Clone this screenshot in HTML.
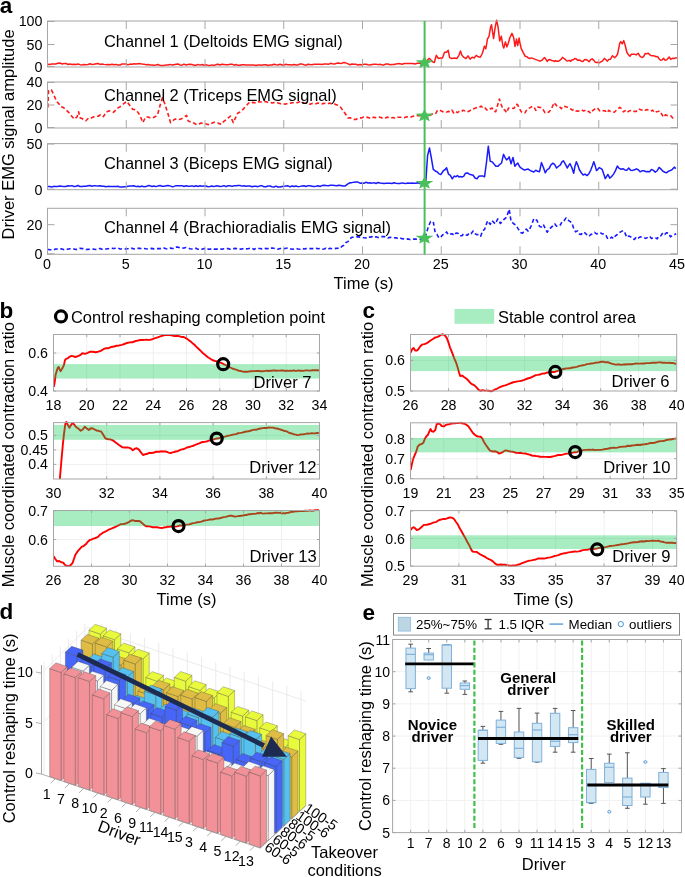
<!DOCTYPE html>
<html><head><meta charset="utf-8"><style>
html,body{margin:0;padding:0;background:#fff;}
svg{display:block;will-change:transform;}
text{font-family:"Liberation Sans", sans-serif;}
</style></head><body>
<svg width="685" height="877" viewBox="0 0 685 877">
<rect width="685" height="877" fill="#fff"/>
<polyline points="47.5,64.19 49.58,64.39 51.67,64.01 53.75,64.12 55.83,63.98 57.92,63.15 60,62.92 62,64 64,63.41 66,63.48 68,64.49 70,63.96 72,64.5 74,64.17 76,64.47 78,63.98 80,64.66 82,64.89 84,64.43 86,64.64 88,64.51 90,63.73 92,64.51 94,64.26 96,63.86 98,63.49 100,64.44 102,64.03 104,64.38 106,64.63 108,64.5 110,64.81 112,64.23 114,64.78 116,64.41 118,65.06 120,65.05 122,64.04 124,64 126,64.02 128,64.84 130,64.12 132,64.27 134,63.8 136,63.97 138,63.74 140,63.62 142,64.02 144,64.14 146,64.65 148,64.5 150,64.91 152,64.95 154,65.23 156,64.97 158,64.48 160,65.43 162,65.51 164,65.39 166,64.93 168,65.06 170,64.4 172,65.1 174,64.74 176,64.34 178,64.03 180,64.92 182,65.14 184,64.11 186,65.01 188,64.59 190,64.33 192,64.55 194,65.17 196,65.35 198,64.4 200,65.14 202,64.43 204,65.22 206,64.74 208,65.38 210,65.48 212,64.89 214,65.46 216,64.61 218,64.31 220,64.92 222,64.22 224,64.4 226,64.63 228,64.85 230,64.29 232,64.17 234,65.18 236,64.54 238,65.33 240,65.28 242,64.67 244,64.79 246,64.88 248,65.05 250,65.01 252,64.99 254,65.08 256,65.49 258,64.99 260,64.92 262,65.24 264,64.65 266,64.7 268,65.49 270,64.93 272,64.94 274,64.27 276,64.74 278,64.92 280,64.22 282,64.92 284,64.92 286,64.21 288,64.87 290,64.66 292,64.9 294,64.5 296,64.91 298,64.93 300,64.06 302,64.09 304,64.82 306,65.15 308,64.28 310,64.51 312,64.66 314,64.32 316,64.36 318,64.29 320,64.34 322.08,64.49 324.17,64.01 326.25,63.98 328.33,64.33 330.42,63.31 332.5,63.83 334.58,63.91 336.67,63.27 338.75,63.04 340.83,63.61 342.92,62.81 345,62.62 347.5,63.67 350,64.74 352,64.03 354,64.3 356,64.32 358,64.93 360,64.46 362,64.97 364,64.15 366,64.36 368,64.74 370,65.03 372,64.51 374,64.25 376,64.13 378,64.63 380,64.23 382,64.91 384,64.89 386,64.04 388,64.09 390,64.67 392,64.41 394,64.55 396,63.93 398,63.62 400,63.75 402.14,64.28 404.29,63.58 406.43,63.6 408.57,63.61 410.71,63.55 412.86,63.46 415,64 417.25,63.21 419.5,63.16 421.75,64.41 424,64 424.09,63.63 425.36,62.14 426.64,61.33 427.92,59.67 429.2,58.25 430.73,59.8 432.26,61.65 434.31,62.49 436.35,55.28 438.39,58.5 440.44,57.98 442.48,57.97 444.52,52.29 446.57,52.18 448.2,50.31 449.63,57.58 451.68,58.44 453.21,58.2 454.74,57.99 456.79,58.45 458.83,55.57 460.47,50.97 461.9,55.22 463.94,57.46 465.98,58.53 468.03,55.83 470.07,59.11 472.12,57.17 474.16,57.93 476.2,55.36 478.25,56.85 480.29,57.26 482.33,53.5 484.38,46.24 485.81,48.8 487.44,39.21 489.08,36.09 490.51,27.38 491.53,24.81 492.55,31.91 493.57,38.52 495.21,27.12 496.64,20.27 498.07,27.15 499.71,41.03 501.34,36.15 502.77,45.13 503.79,47.99 505.43,41.86 506.86,46.88 508.29,43.26 509.92,37.54 511.97,33.35 513.6,37.23 515.03,46.45 516.46,39.04 517.69,45.52 519.12,38.03 520.14,43.82 521.16,48.36 523.21,52.58 525.25,56.27 526.79,56.61 528.32,58.01 529.85,58.57 531.38,57.92 540,61.13 542.04,60.25 543.27,58.78 544.5,57.43 545.82,59.23 547.15,61.49 548.69,59.7 550.22,59.51 551.58,60.56 552.94,60.69 554.31,61.47 555.67,60.72 557.03,61.36 558.39,61.29 559.76,60.42 561.12,59.23 562.48,57.33 563.84,58.4 565.21,59.29 566.57,60.87 567.93,60.89 569.29,60.37 570.66,61.34 572.02,59.87 573.38,59.76 574.74,58.49 576.11,58.82 577.47,60.34 578.83,60.02 580.19,60.23 581.56,61.36 582.92,61.43 584.45,59.71 585.98,59.49 587.52,60.32 589.05,61.81 590.58,59.61 592.12,58.86 593.65,60.19 595.18,62.16 596.54,62.55 597.91,62.31 599.27,62.86 600.8,61.91 602.33,61.17 604.38,58.42 605.91,59.72 607.44,61.11 608.98,59.37 610.51,59.15 612.55,55.68 614.6,57.69 616.13,56.26 617.66,53.81 619.71,43.39 620.73,41.55 622.16,43.86 623.79,40.63 625.43,46.23 626.86,52.24 628.39,54.64 629.92,56.29 631.46,54.27 632.99,54.18 634.52,54.18 636.06,54.95 638.1,53.24 640.14,56.35 642.19,57.54 643.72,56.42 645.25,53.47 646.79,53.63 648.32,53.32 649.85,54.87 651.38,55.69 652.92,55.7 654.45,55.9 655.98,56.72 657.51,56.43 659.05,58.73 660.58,60.32 662.11,59.88 663.65,58.38 665.18,60.19 666.71,59.88 667.94,58.44 669.16,57.03 670.8,59.44 672.33,58.24 673.86,58.43 675.4,57.97 676.93,57.69" fill="none" stroke="#ff1a1a" stroke-width="1.5" stroke-linejoin="round"/>
<polyline points="47.92,107.46 48.5,90.68 51.42,89.85 53.76,94.8 56.68,101.48 58.87,103.84 61.06,106.78 63.25,107.45 65.44,109.34 67.63,111.35 69.82,113.53 72.01,116.49 74.2,119.11 77.12,116.83 78.58,111.71 80.04,117.69 81.98,118.45 83.93,119.67 85.88,120.78 88.8,117.77 91.72,117.84 93.91,116.84 96.09,116.25 98.28,116.26 100.47,114.6 103.39,116.62 106.31,111.99 109.23,110.82 111.42,111.23 113.61,112.31 115.8,109.92 117.99,107.89 120.18,106.68 122.37,104.9 124.56,103 126.75,101.46 129.67,105.26 132.59,109.19 134.78,109.62 136.97,111.1 139.89,115.12 142.81,122.56 145.73,116.88 147.92,117.01 150.11,117.81 152.3,118.04 154.49,117.01 157.41,115.3 160.33,104.42 162.37,97.71 164.71,103.56 167.63,112.57 170.55,122.68 172.74,120.88 174.93,119.11 177.12,119.07 179.31,119.44 181.5,118.7 183.69,117.53 186.61,115.44 188.07,120.88 190.26,121.81 192.45,122.06 194.64,123.54 196.82,124.77 199.01,124.08 201.2,122.98 203.39,123.43 205.58,123.67 207.77,124.42 209.96,124.77 212.15,123.03 214.34,122.23 216.53,122.44 218.72,123.37 221.64,124.27 223.83,121.31 226.02,119.68 228.21,117.76 230.4,116.01 233.32,122.6 235.51,117.8 237.7,113.25 239.89,112.05 242.08,110.66 244.38,107.69 246.57,105.4 248.76,102.92 250.71,103.6 252.65,102.38 254.6,102.78 256.55,102.96 258.49,101.69 260.44,101.96 262.38,102.04 264.33,101.35 266.28,101.75 268.22,102.43 270.17,102.42 272.12,103.04 274.06,102.56 276.01,102.85 277.96,102.89 279.9,103.56 281.85,104.26 283.8,104.05 285.74,104.08 287.69,103.41 289.64,103.65 291.58,102.69 293.53,102.72 295.47,102.98 297.66,102.61 299.85,101.8 302.04,102.13 304.23,103.08 306.18,103.2 308.13,103.48 310.07,104.31 312.02,103.39 313.97,104.02 315.91,103.81 317.86,103.02 319.81,103.6 321.75,103.93 323.7,103.18 325.64,103.46 327.59,103.85 329.54,103.09 331.48,103.86 333.43,103.49 335.62,104.47 337.81,105.29 340.73,107.38 343.65,111.53 345.84,114.54 348.03,118 349.98,117.86 351.92,118.43 353.87,119.41 355.82,119.43 357.76,118.35 359.71,117.83 361.65,117.93 363.6,117.08 365.55,117.47 367.49,117.17 369.44,117.89 371.39,118.51 373.33,117.23 375.28,117.63 377.23,117.5 379.17,117.15 381.12,117.48 383.07,118.55 385.01,118.36 386.96,117.11 388.91,117.62 390.85,118.11 392.8,117.45 394.74,118.09 396.69,117.12 398.64,117.21 400.58,117.29 402.53,117.29 404.48,117.6 406.42,116.88 408.37,116.9 410.32,117.23 412.26,116.6 414.21,115.95 416.16,115.41 418.1,115.62 420.05,115.61 422,115.43 423.94,116.5 424.5,116 430,115.45 431.82,114.22 433.65,114 435.47,113.93 437.3,110.51 439.12,109.87 440.95,110.81 442.77,111.68 444.6,111.2 446.42,112.09 448.25,111.39 450.07,111.93 451.9,110.16 453.72,112.94 455.55,111.27 457.37,112.57 459.2,111.41 461.02,111.89 462.85,110.32 464.67,110.8 466.5,110.31 468.32,111.62 470.15,110.5 471.97,109.16 473.8,108.76 475.62,108.11 477.45,107.44 479.27,107.41 481.09,106.12 482.92,107.9 484.74,107.37 486.57,109.71 488.39,110.45 490.22,108.91 492.04,108 493.87,111.02 495.69,111.79 497.52,105.45 499.34,98.98 501.17,104.45 502.99,109.3 504.82,110 506.64,112.7 508.47,108.09 510.29,108.42 512.12,108.21 513.94,108.51 515.77,104.39 517.59,104.61 519.42,108.6 521.24,111.67 523.07,113.09 524.89,112.93 526.72,109.93 528.54,108.4 530.36,107.63 532.19,106.25 534.01,107.07 535.84,110.36 537.66,107.08 539.49,107.36 541.31,107.45 543.14,109.56 544.96,112.66 546.79,111.85 548.61,112.28 550.44,110.25 552.26,106.95 554.09,102.57 555.91,104.93 557.74,106.78 559.56,106.68 561.39,108.67 563.21,106.31 565.04,106.44 566.86,106.99 568.69,107.38 570.51,108.75 572.34,110.12 574.16,109.34 575.99,110.97 577.81,111.15 579.64,110.59 581.46,109.79 583.28,110.84 585.11,110.5 586.93,112.13 588.76,111.29 590.58,113.29 592.41,110.96 594.23,109.46 596.06,107.88 597.88,108.58 599.71,110.82 601.53,109.95 603.36,110.7 605.18,110.88 607.01,112.76 608.83,110.33 610.66,111.57 612.48,111.8 614.31,112.27 616.13,110.48 617.96,108.91 619.78,107.35 621.61,108.59 623.43,111.9 625.26,110.54 627.08,112.43 628.91,111.04 630.73,110.44 632.55,111.45 634.38,111.31 636.2,111.44 638.03,109.18 639.85,109.41 641.68,110.09 643.5,109.04 645.33,110.18 647.15,109.59 648.98,110.39 650.8,111.2 652.63,110.15 654.45,112.74 656.28,111.82 658.1,111.47 659.93,110.99 661.75,114.27 663.58,117.19 665.4,114.79 667.23,115.53 669.05,115.4 670.88,115.85 672.7,117.99 674.53,117.59" fill="none" stroke="#ff1a1a" stroke-width="1.6" stroke-linejoin="round" stroke-dasharray="4 2.6"/>
<polyline points="47.5,186.44 49.53,186.54 51.56,186.95 53.59,186.37 55.62,186.38 57.66,186.45 59.69,185.93 61.72,186.3 63.75,186.41 65.78,186.57 67.81,185.7 69.84,185.92 71.88,185.63 73.91,186.47 75.94,186.29 77.97,185.48 80,186.58 82,186.58 84,186.23 86,186.21 88,185.69 90,185.54 92,186.18 94,185.65 96,185.83 98,185.92 100,185.69 102,186.23 104,186.23 106,186.74 108,186.37 110,186.54 112,186.4 114,186.62 116,186.4 118,186.21 120,187.1 122,187.07 124,186.86 126,186.67 128,186.18 130,186.05 132,186.1 134,185.81 136,186.62 138,186.16 140,186.67 142,186.09 144,186.75 146,186.59 148,185.55 150,185.78 152,186.59 154,186.04 156,186.63 158,185.9 160,185.49 162,186.17 164,186.36 166,185.77 168,185.56 170,185.87 172,186.65 174,186.41 176,185.66 178,185.83 180,185.67 182,185.64 184,186.54 186,185.81 188,186.28 190,186.16 192,185.87 194,186.53 196,185.83 198,186.46 200,185.84 202,186.19 204,185.93 206,185.98 208,186.81 210,186.59 212,185.97 214,186.66 216,185.83 218,186.04 220,186.58 222,186.31 224,185.64 226,186.69 228,185.75 230,185.78 232,186.39 234,185.84 236,185.79 238,185.5 240,185.51 242,186.12 244,185.74 246,186.2 248,185.95 250,186.07 252,186.7 254,186.16 256,186.29 258,186.66 260,185.87 262,185.86 264,186.79 266,186.71 268,186.05 270,186 272,186.69 274,186.95 276,186.09 278,187.02 280,186.96 282,186.6 284,186.36 286,185.95 288,185.85 290,186.93 292,186.04 294,186.57 296,186.01 298,186.66 300,186.37 302,185.98 304,185.81 306,186.44 308,185.63 310,185.8 312,186.17 314,186.5 316,186.19 318,185.76 320,186.5 322.08,185.6 324.17,185.34 326.25,185.6 328.33,185.77 330.42,185.26 332.5,185.36 334.58,185.55 336.67,185.75 338.75,185.18 340.83,185.42 342.92,186.01 345,186.08 347.5,184.19 350,182.73 352,182.63 354,182.14 356,182.04 358,182.05 360,183.16 362,182.94 364,183.29 366,182.19 368,182.96 370,182.81 372,183.14 374,182.68 376,183.53 378,182.46 380,183.06 382,183.28 384,183.48 386,183.28 388,183.24 390,183.35 392,183.5 394,182.82 396,183.22 398,183.48 400,183.45 402,182.9 404,183.35 406,183.44 408,183.09 410,183.15 412,182.93 414,183.24 416,183.34 418,182.78 420,183.52 422,184.02 424,183.5 425.69,183.59 427.59,155.5 429.49,147.92 431.39,158.26 433.28,169.38 435.18,171.06 437.08,171.81 438.98,173.83 440.87,174.54 442.2,172.46 443.53,170.48 445.05,169.73 446.57,167.75 448.46,174.04 450.36,175.38 452.26,178.76 454.16,176.12 456.05,176.69 457.48,175.49 458.9,177 460.32,176.58 461.75,177 463.64,176.36 465.54,173.19 467.44,172.9 469.34,174.23 471.23,174.74 473.13,175.24 475.03,177.98 476.93,178.84 478.82,176.23 480.72,175.9 482.62,175.89 484.52,176.82 486.41,163.01 488.31,146.16 490.21,161.27 492.11,161.87 494,164.01 495.9,166.25 497.8,166.37 499.7,164.51 501.59,162.96 503.49,154.37 505.01,157.42 506.53,159.93 507.86,158.86 509.18,156.87 511.08,163.72 512.98,157.4 514.88,166.28 516.39,164.39 517.91,163.15 519.24,165.96 520.57,167.69 522.47,168.88 524.36,170.09 526.26,169.43 528.16,169.08 530.06,170.36 531.95,171.31 533.85,171.95 535.75,170.22 537.65,171.35 539.54,171.7 541.44,162.62 543.34,167.29 545.24,172.8 547.13,169.57 549.03,168.56 550.93,164.97 552.83,163.16 554.72,164.69 556.62,168.02 558.52,166.25 560.42,164.94 561.94,161.87 563.45,160.79 565.35,164.09 567.25,168.03 568.58,165.57 569.91,163.69 571.8,167.48 573.7,173.17 575.03,165.9 576.36,161.72 577.87,165.35 579.39,169.74 581.29,172.76 583.19,174.98 585.09,174.12 586.98,175.59 588.88,173.75 590.78,170.04 592.3,166.05 593.81,161.79 595.14,165.65 596.47,170.6 597.8,169.43 599.13,167.56 600.65,168.47 602.16,169.41 603.68,173.8 605.2,178.53 606.53,176.72 607.86,174.43 609.75,178.17 611.65,176.49 613.55,174.11 615.45,170.61 617.34,166.09 619.24,168.41 621.14,169.25 623.04,168.74 624.93,169.94 626.83,170.16 628.73,168.02 630.63,170.3 632.52,170.39 634.42,169.8 636.32,168.87 638.22,169.79 640.11,171.83 642.01,170.82 643.91,170.73 645.81,171.7 647.7,171.52 649.6,171.7 651.5,169.44 653.4,170.41 655.29,172.13 657.19,170.75 659.09,167.44 660.99,169.09 662.88,171.2 664.78,172.23 666.68,172.78 668.58,171.14 670.47,170.54 672.37,169.26 674.27,167.14 675.79,168.62" fill="none" stroke="#1a1aff" stroke-width="1.5" stroke-linejoin="round"/>
<polyline points="47.5,249.16 49.53,249.73 51.56,249.7 53.59,249.9 55.62,248.94 57.66,248.97 59.69,248.82 61.72,248.9 63.75,249.58 65.78,248.7 67.81,249.23 69.84,248.76 71.88,248.84 73.91,249 75.94,249.54 77.97,249.18 80,248.32 82,248.66 84,248.46 86,249.44 88,249.33 90,249.3 92,249.31 94,249.17 96,249.43 98,249.19 100,248.41 102,249.21 104,248.68 106,249.03 108,248.74 110,248.53 112,248.41 114,248.48 116,248.29 118,247.99 120,248.95 122,248.94 124,249.23 126,248.84 128,248.68 130,248.97 132,248.14 134,248.92 136,248.62 138,248.27 140,248.33 142,248.81 144,248.45 146,248.77 148,249 150,248.73 152,248.38 154,248.91 156,248.58 158,248.6 160,248.57 162,248.66 164,248.1 166,248.76 168,249.04 170,248.1 172,248.41 174,248.56 176,247.16 178,247.15 180,247.93 182,248.12 184,247.99 186,247.47 188,247.98 190,248.77 192,248.94 194,248.97 196,248.28 198,249.35 200,248.82 202,249.3 204,248.49 206,249.66 208,249.14 210,249.31 212,248.6 214,249.16 216,249.11 218,249.13 220,248.8 222,249.32 224,248.78 226,248.71 228,248.53 230,249.26 232,248.46 234,248.62 236,248.4 238,249.2 240,249.08 242,249.04 244,248.3 246,248.84 248,248.68 250,248.3 252,248.15 254,249.52 256,248.27 258,248.5 260,248.43 262,248.86 264,248.11 266,248.63 268,248.46 270,249.09 272,247.91 274,248.34 276,248.55 278,249.18 280,248.52 282,248.49 284,248.79 286,248.29 288,247.94 290,248.63 292,249.22 294,249.01 296,248.36 298,248.98 300,249.24 302,248.44 304,248.92 306,248.62 308,248.49 310,248.58 312,248.49 314,248.72 316,248.3 318,248.83 320,248.42 322,249.31 324,249.04 326,248.16 328,249.18 330,248.32 332,248.67 334,248.73 336,248.37 338,248.26 340,248.41 342,246.16 344,245.34 346,242.46 348,241.62 350,238.94 352,237.22 354,237.31 356,236.78 358,236.87 360,237.16 362,237.24 364,237.81 366,237.94 368,236.58 370,237.23 372,236.62 374,237.53 376,236.82 378,237.59 380,237.06 382,236.61 384,236.57 386,237.05 388,238.05 390,237.18 392,237.77 394,237.75 396,237.85 398,238.62 400,237.93 402,238.77 404,238.83 406,239.34 408,238.89 410,239.59 412,238.92 414,239.1 416,239.17 418,239.48 420,239.56 422,238.46 424,239 425.69,235.92 428.35,226.56 430.63,221.46 433.28,221.68 435.18,232.68 437.08,234.53 438.98,238.05 440.87,236.85 442.77,234.69 444.67,234.47 446.57,231.97 448.46,234.79 450.36,234.06 452.26,233.79 454.16,235.46 456.05,232.98 457.95,233.28 459.85,235.76 461.75,235.81 463.64,233.92 465.54,235.03 467.44,235.16 469.34,232.7 471.23,233.6 473.13,231.04 475.03,233.67 476.93,234.7 478.82,234.36 480.72,236.23 482.62,230.86 484.52,229.44 487.55,220.73 490.21,224.34 492.11,220.69 495.14,223.85 497.8,218.86 500.46,223.52 503.49,219.88 506.53,217.2 509.18,209.31 511.08,221.45 514.12,224.02 516.02,225.21 517.91,228.37 520.57,232.5 522.47,233.15 524.36,230.81 526.26,229.08 528.16,231.13 530.06,228.27 531.95,224.18 533.85,218.58 536.89,220.24 539.54,226.46 541.44,226.91 543.34,224.49 545.24,228.65 547.13,232.2 549.03,229.79 550.93,227.62 552.83,225.82 554.72,223.76 556.62,226.2 558.52,226.39 560.42,224.84 562.31,221.18 564.21,220.47 566.11,217.88 568.77,220.6 571.8,222.76 573.7,228.46 575.6,231.81 577.5,230.88 579.39,234.16 581.29,234.4 583.19,232.06 585.09,232.94 586.98,234.84 588.88,236.47 590.78,234.56 592.68,233.74 594.57,232.4 596.47,233.9 598.37,233.36 600.27,232.63 602.16,233.97 604.06,233.65 605.96,235.48 607.86,238.9 609.75,238.69 611.65,237.09 613.55,238.74 615.45,235.83 617.34,234.52 619.24,232.51 621.14,231.63 623.04,230.54 624.93,232.92 626.83,237.39 628.73,236.08 630.63,236.78 632.52,238.75 634.42,239.44 636.32,236.93 638.22,238.15 640.11,236.81 642.01,237.47 643.91,237.58 645.81,238.38 647.7,237.37 649.6,236.15 651.5,238.42 653.4,237.94 655.29,237.43 657.19,238.82 659.09,236.15 660.99,235.66 662.88,232.83 664.78,234.31 666.68,232.71 668.58,232.98 670.47,236.83 672.37,235.25 674.27,234.81 676.17,233.61" fill="none" stroke="#1a1aff" stroke-width="1.6" stroke-linejoin="round" stroke-dasharray="4 2.6"/>
<rect x="47.5" y="21" width="630" height="46" fill="none" stroke="#a6a6a6" stroke-width="1"/>
<line x1="126.25" y1="67" x2="126.25" y2="59" stroke="#a8a8a8" stroke-width="1"/>
<line x1="126.25" y1="21" x2="126.25" y2="29" stroke="#a8a8a8" stroke-width="1"/>
<line x1="205" y1="67" x2="205" y2="59" stroke="#a8a8a8" stroke-width="1"/>
<line x1="205" y1="21" x2="205" y2="29" stroke="#a8a8a8" stroke-width="1"/>
<line x1="283.75" y1="67" x2="283.75" y2="59" stroke="#a8a8a8" stroke-width="1"/>
<line x1="283.75" y1="21" x2="283.75" y2="29" stroke="#a8a8a8" stroke-width="1"/>
<line x1="362.5" y1="67" x2="362.5" y2="59" stroke="#a8a8a8" stroke-width="1"/>
<line x1="362.5" y1="21" x2="362.5" y2="29" stroke="#a8a8a8" stroke-width="1"/>
<line x1="441.25" y1="67" x2="441.25" y2="59" stroke="#a8a8a8" stroke-width="1"/>
<line x1="441.25" y1="21" x2="441.25" y2="29" stroke="#a8a8a8" stroke-width="1"/>
<line x1="520" y1="67" x2="520" y2="59" stroke="#a8a8a8" stroke-width="1"/>
<line x1="520" y1="21" x2="520" y2="29" stroke="#a8a8a8" stroke-width="1"/>
<line x1="598.75" y1="67" x2="598.75" y2="59" stroke="#a8a8a8" stroke-width="1"/>
<line x1="598.75" y1="21" x2="598.75" y2="29" stroke="#a8a8a8" stroke-width="1"/>
<rect x="47.5" y="82" width="630" height="46" fill="none" stroke="#a6a6a6" stroke-width="1"/>
<line x1="126.25" y1="128" x2="126.25" y2="120" stroke="#a8a8a8" stroke-width="1"/>
<line x1="126.25" y1="82" x2="126.25" y2="90" stroke="#a8a8a8" stroke-width="1"/>
<line x1="205" y1="128" x2="205" y2="120" stroke="#a8a8a8" stroke-width="1"/>
<line x1="205" y1="82" x2="205" y2="90" stroke="#a8a8a8" stroke-width="1"/>
<line x1="283.75" y1="128" x2="283.75" y2="120" stroke="#a8a8a8" stroke-width="1"/>
<line x1="283.75" y1="82" x2="283.75" y2="90" stroke="#a8a8a8" stroke-width="1"/>
<line x1="362.5" y1="128" x2="362.5" y2="120" stroke="#a8a8a8" stroke-width="1"/>
<line x1="362.5" y1="82" x2="362.5" y2="90" stroke="#a8a8a8" stroke-width="1"/>
<line x1="441.25" y1="128" x2="441.25" y2="120" stroke="#a8a8a8" stroke-width="1"/>
<line x1="441.25" y1="82" x2="441.25" y2="90" stroke="#a8a8a8" stroke-width="1"/>
<line x1="520" y1="128" x2="520" y2="120" stroke="#a8a8a8" stroke-width="1"/>
<line x1="520" y1="82" x2="520" y2="90" stroke="#a8a8a8" stroke-width="1"/>
<line x1="598.75" y1="128" x2="598.75" y2="120" stroke="#a8a8a8" stroke-width="1"/>
<line x1="598.75" y1="82" x2="598.75" y2="90" stroke="#a8a8a8" stroke-width="1"/>
<rect x="47.5" y="143.6" width="630" height="46.1" fill="none" stroke="#a6a6a6" stroke-width="1"/>
<line x1="126.25" y1="189.7" x2="126.25" y2="181.7" stroke="#a8a8a8" stroke-width="1"/>
<line x1="126.25" y1="143.6" x2="126.25" y2="151.6" stroke="#a8a8a8" stroke-width="1"/>
<line x1="205" y1="189.7" x2="205" y2="181.7" stroke="#a8a8a8" stroke-width="1"/>
<line x1="205" y1="143.6" x2="205" y2="151.6" stroke="#a8a8a8" stroke-width="1"/>
<line x1="283.75" y1="189.7" x2="283.75" y2="181.7" stroke="#a8a8a8" stroke-width="1"/>
<line x1="283.75" y1="143.6" x2="283.75" y2="151.6" stroke="#a8a8a8" stroke-width="1"/>
<line x1="362.5" y1="189.7" x2="362.5" y2="181.7" stroke="#a8a8a8" stroke-width="1"/>
<line x1="362.5" y1="143.6" x2="362.5" y2="151.6" stroke="#a8a8a8" stroke-width="1"/>
<line x1="441.25" y1="189.7" x2="441.25" y2="181.7" stroke="#a8a8a8" stroke-width="1"/>
<line x1="441.25" y1="143.6" x2="441.25" y2="151.6" stroke="#a8a8a8" stroke-width="1"/>
<line x1="520" y1="189.7" x2="520" y2="181.7" stroke="#a8a8a8" stroke-width="1"/>
<line x1="520" y1="143.6" x2="520" y2="151.6" stroke="#a8a8a8" stroke-width="1"/>
<line x1="598.75" y1="189.7" x2="598.75" y2="181.7" stroke="#a8a8a8" stroke-width="1"/>
<line x1="598.75" y1="143.6" x2="598.75" y2="151.6" stroke="#a8a8a8" stroke-width="1"/>
<rect x="47.5" y="208.3" width="630" height="46" fill="none" stroke="#a6a6a6" stroke-width="1"/>
<line x1="126.25" y1="254.3" x2="126.25" y2="246.3" stroke="#a8a8a8" stroke-width="1"/>
<line x1="126.25" y1="208.3" x2="126.25" y2="216.3" stroke="#a8a8a8" stroke-width="1"/>
<line x1="205" y1="254.3" x2="205" y2="246.3" stroke="#a8a8a8" stroke-width="1"/>
<line x1="205" y1="208.3" x2="205" y2="216.3" stroke="#a8a8a8" stroke-width="1"/>
<line x1="283.75" y1="254.3" x2="283.75" y2="246.3" stroke="#a8a8a8" stroke-width="1"/>
<line x1="283.75" y1="208.3" x2="283.75" y2="216.3" stroke="#a8a8a8" stroke-width="1"/>
<line x1="362.5" y1="254.3" x2="362.5" y2="246.3" stroke="#a8a8a8" stroke-width="1"/>
<line x1="362.5" y1="208.3" x2="362.5" y2="216.3" stroke="#a8a8a8" stroke-width="1"/>
<line x1="441.25" y1="254.3" x2="441.25" y2="246.3" stroke="#a8a8a8" stroke-width="1"/>
<line x1="441.25" y1="208.3" x2="441.25" y2="216.3" stroke="#a8a8a8" stroke-width="1"/>
<line x1="520" y1="254.3" x2="520" y2="246.3" stroke="#a8a8a8" stroke-width="1"/>
<line x1="520" y1="208.3" x2="520" y2="216.3" stroke="#a8a8a8" stroke-width="1"/>
<line x1="598.75" y1="254.3" x2="598.75" y2="246.3" stroke="#a8a8a8" stroke-width="1"/>
<line x1="598.75" y1="208.3" x2="598.75" y2="216.3" stroke="#a8a8a8" stroke-width="1"/>
<line x1="47.5" y1="21.5" x2="54.5" y2="21.5" stroke="#a6a6a6" stroke-width="1"/>
<line x1="677.5" y1="21.5" x2="670.5" y2="21.5" stroke="#a6a6a6" stroke-width="1"/>
<line x1="47.5" y1="44.5" x2="54.5" y2="44.5" stroke="#a6a6a6" stroke-width="1"/>
<line x1="677.5" y1="44.5" x2="670.5" y2="44.5" stroke="#a6a6a6" stroke-width="1"/>
<line x1="47.5" y1="66.5" x2="54.5" y2="66.5" stroke="#a6a6a6" stroke-width="1"/>
<line x1="677.5" y1="66.5" x2="670.5" y2="66.5" stroke="#a6a6a6" stroke-width="1"/>
<line x1="47.5" y1="82.5" x2="54.5" y2="82.5" stroke="#a6a6a6" stroke-width="1"/>
<line x1="677.5" y1="82.5" x2="670.5" y2="82.5" stroke="#a6a6a6" stroke-width="1"/>
<line x1="47.5" y1="105" x2="54.5" y2="105" stroke="#a6a6a6" stroke-width="1"/>
<line x1="677.5" y1="105" x2="670.5" y2="105" stroke="#a6a6a6" stroke-width="1"/>
<line x1="47.5" y1="127.5" x2="54.5" y2="127.5" stroke="#a6a6a6" stroke-width="1"/>
<line x1="677.5" y1="127.5" x2="670.5" y2="127.5" stroke="#a6a6a6" stroke-width="1"/>
<line x1="47.5" y1="144" x2="54.5" y2="144" stroke="#a6a6a6" stroke-width="1"/>
<line x1="677.5" y1="144" x2="670.5" y2="144" stroke="#a6a6a6" stroke-width="1"/>
<line x1="47.5" y1="189.2" x2="54.5" y2="189.2" stroke="#a6a6a6" stroke-width="1"/>
<line x1="677.5" y1="189.2" x2="670.5" y2="189.2" stroke="#a6a6a6" stroke-width="1"/>
<line x1="47.5" y1="224.7" x2="54.5" y2="224.7" stroke="#a6a6a6" stroke-width="1"/>
<line x1="677.5" y1="224.7" x2="670.5" y2="224.7" stroke="#a6a6a6" stroke-width="1"/>
<line x1="47.5" y1="253.8" x2="54.5" y2="253.8" stroke="#a6a6a6" stroke-width="1"/>
<line x1="677.5" y1="253.8" x2="670.5" y2="253.8" stroke="#a6a6a6" stroke-width="1"/>
<text x="42.5" y="26.1" font-size="14.3" text-anchor="end" fill="#000">100</text>
<text x="42.5" y="49.6" font-size="14.3" text-anchor="end" fill="#000">50</text>
<text x="42.5" y="72.1" font-size="14.3" text-anchor="end" fill="#000">0</text>
<text x="42.5" y="87.1" font-size="14.3" text-anchor="end" fill="#000">40</text>
<text x="42.5" y="110.1" font-size="14.3" text-anchor="end" fill="#000">20</text>
<text x="42.5" y="133.1" font-size="14.3" text-anchor="end" fill="#000">0</text>
<text x="42.5" y="148.7" font-size="14.3" text-anchor="end" fill="#000">50</text>
<text x="42.5" y="194.8" font-size="14.3" text-anchor="end" fill="#000">0</text>
<text x="42.5" y="229.8" font-size="14.3" text-anchor="end" fill="#000">20</text>
<text x="42.5" y="259.4" font-size="14.3" text-anchor="end" fill="#000">0</text>
<text x="46.9" y="268.9" font-size="14.3" text-anchor="middle" fill="#000">0</text>
<text x="125.65" y="268.9" font-size="14.3" text-anchor="middle" fill="#000">5</text>
<text x="204.4" y="268.9" font-size="14.3" text-anchor="middle" fill="#000">10</text>
<text x="283.15" y="268.9" font-size="14.3" text-anchor="middle" fill="#000">15</text>
<text x="361.9" y="268.9" font-size="14.3" text-anchor="middle" fill="#000">20</text>
<text x="440.65" y="268.9" font-size="14.3" text-anchor="middle" fill="#000">25</text>
<text x="519.4" y="268.9" font-size="14.3" text-anchor="middle" fill="#000">30</text>
<text x="598.15" y="268.9" font-size="14.3" text-anchor="middle" fill="#000">40</text>
<text x="676.9" y="268.9" font-size="14.3" text-anchor="middle" fill="#000">45</text>
<text x="363.5" y="289.4" font-size="16.5" text-anchor="middle" fill="#000">Time (s)</text>
<text x="14" y="134.4" font-size="16.5" text-anchor="middle" fill="#000" transform="rotate(-90 14 134.4)">Driver EMG signal amplitude</text>
<text x="104" y="47.2" font-size="16.4" text-anchor="start" fill="#000">Channel 1 (Deltoids EMG signal)</text>
<text x="104" y="101.2" font-size="16.4" text-anchor="start" fill="#000">Channel 2 (Triceps EMG signal)</text>
<text x="104" y="169.2" font-size="16.4" text-anchor="start" fill="#000">Channel 3 (Biceps EMG signal)</text>
<text x="104" y="233.2" font-size="16.4" text-anchor="start" fill="#000">Channel 4 (Brachioradialis EMG signal)</text>
<line x1="424.6" y1="21" x2="424.6" y2="254.3" stroke="#49c05a" stroke-width="2"/>
<polygon points="424.5,57.3 426.39,60.71 431.44,60.96 427.55,63.32 428.79,66.89 424.5,64.93 420.21,66.89 421.45,63.32 417.56,60.96 422.61,60.71" fill="#49c05a" stroke="#49c05a" stroke-width="1.2" stroke-linejoin="miter"/>
<polygon points="424.5,110.5 426.39,113.91 431.44,114.16 427.55,116.52 428.79,120.09 424.5,118.13 420.21,120.09 421.45,116.52 417.56,114.16 422.61,113.91" fill="#49c05a" stroke="#49c05a" stroke-width="1.2" stroke-linejoin="miter"/>
<polygon points="424.5,177.9 426.39,181.31 431.44,181.56 427.55,183.92 428.79,187.49 424.5,185.53 420.21,187.49 421.45,183.92 417.56,181.56 422.61,181.31" fill="#49c05a" stroke="#49c05a" stroke-width="1.2" stroke-linejoin="miter"/>
<polygon points="424.5,232.7 426.39,236.11 431.44,236.36 427.55,238.72 428.79,242.29 424.5,240.33 420.21,242.29 421.45,238.72 417.56,236.36 422.61,236.11" fill="#49c05a" stroke="#49c05a" stroke-width="1.2" stroke-linejoin="miter"/>
<text x="-0.2" y="12.5" font-size="22.5" text-anchor="start" font-weight="bold" fill="#000">a</text>
<line x1="86.75" y1="334.5" x2="86.75" y2="391" stroke="#efefef" stroke-width="1"/>
<line x1="120" y1="334.5" x2="120" y2="391" stroke="#efefef" stroke-width="1"/>
<line x1="153.25" y1="334.5" x2="153.25" y2="391" stroke="#efefef" stroke-width="1"/>
<line x1="186.5" y1="334.5" x2="186.5" y2="391" stroke="#efefef" stroke-width="1"/>
<line x1="219.75" y1="334.5" x2="219.75" y2="391" stroke="#efefef" stroke-width="1"/>
<line x1="253" y1="334.5" x2="253" y2="391" stroke="#efefef" stroke-width="1"/>
<line x1="286.25" y1="334.5" x2="286.25" y2="391" stroke="#efefef" stroke-width="1"/>
<line x1="53.5" y1="353" x2="319.5" y2="353" stroke="#efefef" stroke-width="1"/>
<polyline points="53.85,386.75 54.9,380.88 55.6,374.73 56.65,371.15 57.88,367.51 58.76,366.92 59.63,369.56 60.51,371.16 62.26,368.53 64.01,364.89 64.89,360.4 66.11,358.83 67.51,358.41 69.26,356.93 71.02,356.07 72.77,356.14 75.39,357.01 78.02,356.04 80.65,354.77 82.4,353.24 85.03,353.83 87.65,352.83 90.28,351.66 92.91,351.81 95.53,352.24 98.16,351.7 100.79,350.89 103.42,349.2 106.04,348.22 108.67,348.2 111.3,346.98 113.92,346.5 116.55,345.74 119.18,345.44 121.8,344.81 124.43,344 127.06,342.98 129.68,342.38 132.31,342.27 134.94,341.25 137.57,340.65 140.19,340.01 142.82,340.04 144.57,339.92 146.32,339.76 148.07,339.85 149.82,339.85 152.45,339.22 155.08,338.22 157.71,337.34 160.33,336.47 162.96,335.63 165,334.88 166.56,335.02 168.12,334.94 169.67,335.07 171.23,335.35 172.79,335.55 174.35,336.09 175.9,335.94 177.46,335.92 179.02,336.11 180.58,336.65 182.13,337.02 183.69,337.01 185.44,337.94 187.2,338.9 188.95,340.4 190.7,341.54 192.45,343.14 194.21,344.51 195.96,346.42 197.71,348.06 199.46,349.69 201.21,351.42 202.97,353.23 204.72,354.46 206.47,356.1 208.22,357.47 209.98,358.54 211.73,359.69 213.48,360.53 215.23,360.98 216.99,361.36 218.74,362.1 220.49,362.68 222.24,363.38 224,364.34 225.75,365 227.5,366.23 229.25,367.15 231,367.78 232.76,368.74 234.31,369.09 235.87,369.58 237.43,370.06 238.99,370.84 240.55,370.95 242.1,371.37 243.66,371.74 245.22,371.73 246.78,371.58 248.33,371.68 249.89,371.21 251.45,371.23 253.01,371.17 254.56,371.16 256.12,370.96 257.68,370.91 259.24,371.04 260.79,371.32 262.35,371.29 263.91,371.09 265.47,370.88 267.02,370.69 268.58,370.96 270.14,370.67 271.7,370.77 273.26,370.42 274.81,370.51 276.37,370.75 277.93,370.65 279.49,370.61 281.04,370.55 282.6,370.54 284.16,370.69 285.72,370.91 287.27,370.71 288.83,370.91 290.39,370.7 291.95,370.87 293.5,370.41 295.06,370.75 296.62,370.88 298.18,370.42 299.74,370.7 301.29,370.73 302.85,370.83 304.41,370.62 305.97,370.38 307.52,370.37 309.08,370.65 310.64,370.62 312.2,370.24 313.75,370.22 315.31,370.22 316.87,370.18 319.21,370.42" fill="none" stroke="#ff0000" stroke-width="1.9" stroke-linejoin="round"/>
<rect x="53.5" y="364.1" width="266" height="14.5" fill="rgb(6,200,77)" stroke="none" stroke-width="1" fill-opacity="0.35"/>
<circle cx="223.2" cy="364.2" r="5.5" fill="none" stroke="#000" stroke-width="3.2"/>
<rect x="53.5" y="334.5" width="266" height="56.5" fill="none" stroke="#a6a6a6" stroke-width="1"/>
<line x1="86.75" y1="391" x2="86.75" y2="388.3" stroke="#a6a6a6" stroke-width="1"/>
<line x1="86.75" y1="334.5" x2="86.75" y2="337.2" stroke="#a6a6a6" stroke-width="1"/>
<line x1="120" y1="391" x2="120" y2="388.3" stroke="#a6a6a6" stroke-width="1"/>
<line x1="120" y1="334.5" x2="120" y2="337.2" stroke="#a6a6a6" stroke-width="1"/>
<line x1="153.25" y1="391" x2="153.25" y2="388.3" stroke="#a6a6a6" stroke-width="1"/>
<line x1="153.25" y1="334.5" x2="153.25" y2="337.2" stroke="#a6a6a6" stroke-width="1"/>
<line x1="186.5" y1="391" x2="186.5" y2="388.3" stroke="#a6a6a6" stroke-width="1"/>
<line x1="186.5" y1="334.5" x2="186.5" y2="337.2" stroke="#a6a6a6" stroke-width="1"/>
<line x1="219.75" y1="391" x2="219.75" y2="388.3" stroke="#a6a6a6" stroke-width="1"/>
<line x1="219.75" y1="334.5" x2="219.75" y2="337.2" stroke="#a6a6a6" stroke-width="1"/>
<line x1="253" y1="391" x2="253" y2="388.3" stroke="#a6a6a6" stroke-width="1"/>
<line x1="253" y1="334.5" x2="253" y2="337.2" stroke="#a6a6a6" stroke-width="1"/>
<line x1="286.25" y1="391" x2="286.25" y2="388.3" stroke="#a6a6a6" stroke-width="1"/>
<line x1="286.25" y1="334.5" x2="286.25" y2="337.2" stroke="#a6a6a6" stroke-width="1"/>
<line x1="53.5" y1="353" x2="56.2" y2="353" stroke="#a6a6a6" stroke-width="1"/>
<line x1="319.5" y1="353" x2="316.8" y2="353" stroke="#a6a6a6" stroke-width="1"/>
<line x1="53.5" y1="391" x2="56.2" y2="391" stroke="#a6a6a6" stroke-width="1"/>
<line x1="319.5" y1="391" x2="316.8" y2="391" stroke="#a6a6a6" stroke-width="1"/>
<text x="53.5" y="409.8" font-size="14.2" text-anchor="middle" fill="#000">18</text>
<text x="86.75" y="409.8" font-size="14.2" text-anchor="middle" fill="#000">20</text>
<text x="120" y="409.8" font-size="14.2" text-anchor="middle" fill="#000">22</text>
<text x="153.25" y="409.8" font-size="14.2" text-anchor="middle" fill="#000">24</text>
<text x="186.5" y="409.8" font-size="14.2" text-anchor="middle" fill="#000">26</text>
<text x="219.75" y="409.8" font-size="14.2" text-anchor="middle" fill="#000">28</text>
<text x="253" y="409.8" font-size="14.2" text-anchor="middle" fill="#000">30</text>
<text x="286.25" y="409.8" font-size="14.2" text-anchor="middle" fill="#000">32</text>
<text x="319.5" y="409.8" font-size="14.2" text-anchor="middle" fill="#000">34</text>
<text x="48" y="358" font-size="14.2" text-anchor="end" fill="#000">0.6</text>
<text x="48" y="396" font-size="14.2" text-anchor="end" fill="#000">0.4</text>
<text x="311.5" y="388.3" font-size="16.6" text-anchor="end" fill="#000">Driver 7</text>
<line x1="106.7" y1="422.6" x2="106.7" y2="479" stroke="#efefef" stroke-width="1"/>
<line x1="159.9" y1="422.6" x2="159.9" y2="479" stroke="#efefef" stroke-width="1"/>
<line x1="213.1" y1="422.6" x2="213.1" y2="479" stroke="#efefef" stroke-width="1"/>
<line x1="266.3" y1="422.6" x2="266.3" y2="479" stroke="#efefef" stroke-width="1"/>
<line x1="53.5" y1="435.4" x2="319.5" y2="435.4" stroke="#efefef" stroke-width="1"/>
<line x1="53.5" y1="449.9" x2="319.5" y2="449.9" stroke="#efefef" stroke-width="1"/>
<line x1="53.5" y1="464.4" x2="319.5" y2="464.4" stroke="#efefef" stroke-width="1"/>
<polyline points="59.81,479.13 61.24,462.78 62.67,446.37 63.9,434.6 65.33,423.97 66.35,421.9 67.98,425.23 69.42,427.73 70.85,425.35 72.48,422.98 74.12,424.36 75.55,426.49 77.08,427.66 78.61,428.84 80.66,430.76 82.7,429.45 84.74,426.69 86.79,428.4 88.83,430.04 90.87,428.26 92.92,428.53 94.96,429.7 96.49,430.44 98.03,430.71 99.56,431.2 101.09,431.42 103.14,434.58 105.18,438.06 107.22,439.15 108.76,439.31 110.29,439.34 112.33,440.1 114.38,441.41 115.91,442.67 117.44,443.77 118.98,444.95 120.51,446.02 122.55,447.39 124.09,447.51 125.62,447.48 127.15,447.41 128.68,447.65 130.73,448.42 132.77,450.3 134.82,448.66 136.86,448.26 138.9,449.63 140.95,452.42 142.99,455 145.03,454.28 147.69,453.7 149.12,452.78 151.16,453.05 153.21,452.79 154.74,452.25 156.27,451.69 157.81,451.81 159.34,451.74 160.87,451.31 162.41,451.56 163.94,451.34 165.47,451.48 167,451.88 168.54,452.55 170.58,453.17 172.62,452.34 174.16,451.98 175.69,451.52 177.22,451.41 178.76,450.54 180.8,449.7 182.33,449.3 183.86,448.98 185.4,448.28 186.93,447.48 189.09,446.99 191.13,446.43 193.17,445.74 195.22,444.95 197.26,444.01 199.31,443.44 201.35,442.3 203.39,441.97 205.44,441.67 207.48,441.2 209.52,440.46 211.57,440.14 213.61,439.46 215.15,438.96 216.68,438.48 218.21,438.38 219.74,437.95 221.79,437.3 223.83,436.92 225.87,436.36 227.92,435.71 229.96,435.41 232.01,434.92 234.05,434.4 236.09,434.16 238.14,433.19 240.18,432.92 242.22,432.58 244.27,432.02 246.31,431.53 248.36,431.38 250.4,430.74 252.44,430.15 254.49,429.62 256.53,429.68 258.57,428.96 260.62,428.44 262.66,428.18 264.71,427.89 266.75,427.99 268.79,427.45 270.84,427.6 272.88,427.61 274.92,428.2 276.97,428.48 279.01,429.06 281.06,429.77 283.1,430.47 285.14,431.04 286.68,431.36 288.21,432.25 289.74,433.09 291.27,433.3 292.81,433.79 294.34,434.34 295.87,434.6 297.41,435.09 298.94,434.87 300.47,434.54 302,434.33 303.54,434.22 305.58,433.93 307.62,433.52 309.67,433.62 311.71,433.16 313.76,433.42 315.8,433.2 317.33,432.9 318.86,433.12" fill="none" stroke="#ff0000" stroke-width="1.9" stroke-linejoin="round"/>
<rect x="53.5" y="424.9" width="266" height="14.9" fill="rgb(6,200,77)" stroke="none" stroke-width="1" fill-opacity="0.35"/>
<circle cx="216.7" cy="438.6" r="5.5" fill="none" stroke="#000" stroke-width="3.2"/>
<rect x="53.5" y="422.6" width="266" height="56.4" fill="none" stroke="#a6a6a6" stroke-width="1"/>
<line x1="106.7" y1="479" x2="106.7" y2="476.3" stroke="#a6a6a6" stroke-width="1"/>
<line x1="106.7" y1="422.6" x2="106.7" y2="425.3" stroke="#a6a6a6" stroke-width="1"/>
<line x1="159.9" y1="479" x2="159.9" y2="476.3" stroke="#a6a6a6" stroke-width="1"/>
<line x1="159.9" y1="422.6" x2="159.9" y2="425.3" stroke="#a6a6a6" stroke-width="1"/>
<line x1="213.1" y1="479" x2="213.1" y2="476.3" stroke="#a6a6a6" stroke-width="1"/>
<line x1="213.1" y1="422.6" x2="213.1" y2="425.3" stroke="#a6a6a6" stroke-width="1"/>
<line x1="266.3" y1="479" x2="266.3" y2="476.3" stroke="#a6a6a6" stroke-width="1"/>
<line x1="266.3" y1="422.6" x2="266.3" y2="425.3" stroke="#a6a6a6" stroke-width="1"/>
<line x1="53.5" y1="435.4" x2="56.2" y2="435.4" stroke="#a6a6a6" stroke-width="1"/>
<line x1="319.5" y1="435.4" x2="316.8" y2="435.4" stroke="#a6a6a6" stroke-width="1"/>
<line x1="53.5" y1="449.9" x2="56.2" y2="449.9" stroke="#a6a6a6" stroke-width="1"/>
<line x1="319.5" y1="449.9" x2="316.8" y2="449.9" stroke="#a6a6a6" stroke-width="1"/>
<line x1="53.5" y1="464.4" x2="56.2" y2="464.4" stroke="#a6a6a6" stroke-width="1"/>
<line x1="319.5" y1="464.4" x2="316.8" y2="464.4" stroke="#a6a6a6" stroke-width="1"/>
<text x="53.5" y="497.6" font-size="14.2" text-anchor="middle" fill="#000">30</text>
<text x="106.7" y="497.6" font-size="14.2" text-anchor="middle" fill="#000">32</text>
<text x="159.9" y="497.6" font-size="14.2" text-anchor="middle" fill="#000">34</text>
<text x="213.1" y="497.6" font-size="14.2" text-anchor="middle" fill="#000">36</text>
<text x="266.3" y="497.6" font-size="14.2" text-anchor="middle" fill="#000">38</text>
<text x="319.5" y="497.6" font-size="14.2" text-anchor="middle" fill="#000">40</text>
<text x="48" y="440.4" font-size="14.2" text-anchor="end" fill="#000">0.5</text>
<text x="48" y="454.9" font-size="14.2" text-anchor="end" fill="#000">0.45</text>
<text x="48" y="469.4" font-size="14.2" text-anchor="end" fill="#000">0.4</text>
<text x="316.6" y="473.4" font-size="16.6" text-anchor="end" fill="#000">Driver 12</text>
<line x1="91.5" y1="510.5" x2="91.5" y2="566.3" stroke="#efefef" stroke-width="1"/>
<line x1="129.5" y1="510.5" x2="129.5" y2="566.3" stroke="#efefef" stroke-width="1"/>
<line x1="167.5" y1="510.5" x2="167.5" y2="566.3" stroke="#efefef" stroke-width="1"/>
<line x1="205.5" y1="510.5" x2="205.5" y2="566.3" stroke="#efefef" stroke-width="1"/>
<line x1="243.5" y1="510.5" x2="243.5" y2="566.3" stroke="#efefef" stroke-width="1"/>
<line x1="281.5" y1="510.5" x2="281.5" y2="566.3" stroke="#efefef" stroke-width="1"/>
<line x1="53.5" y1="539.5" x2="319.5" y2="539.5" stroke="#efefef" stroke-width="1"/>
<polyline points="53.68,556.31 55.11,558.77 57.15,561.4 59.2,560.99 61.24,562.27 63.28,562.6 64.71,564.69 66.35,565.72 68.39,566.16 70.44,565.26 72.48,563.11 74.12,558.52 75.55,554.43 77.59,551.39 79.63,549.05 81.68,546.86 83.72,545.88 85.77,544.36 87.81,541.72 89.85,539.93 91.39,539.58 92.92,538.77 94.45,538.29 95.98,537.76 98.03,536.91 100.07,534.57 101.6,533.74 103.14,532.52 104.67,531.91 106.2,531.24 107.74,530.25 109.27,529.32 110.8,528.8 112.33,528.2 113.87,527.53 115.4,526.84 116.93,526.22 118.47,525.28 120.51,524.25 122.04,524.12 123.57,524.16 125.11,523.55 126.64,523.2 128.68,522.17 130.73,520.71 132.77,520.22 134.82,520.98 136.86,520.9 138.39,520.96 139.92,521.28 141.97,522.88 144.01,524.93 146.06,526.19 147.59,526.28 149.12,526.34 150.65,526.57 152.19,527.21 153.72,527.18 155.25,527.24 156.79,527.15 158.32,527.5 159.85,527.89 161.38,527.94 162.92,527.91 164.45,527.31 165.98,527.41 167.51,526.65 169.05,526.72 170.58,526.43 172.11,526.72 173.65,526.55 175.18,526.59 176.71,526.41 178.24,526.07 179.78,525.46 181.31,525.48 182.84,525.15 184.89,524.65 186.93,524.65 189.09,524.35 191.13,523.75 193.17,523.18 195.22,522.87 197.26,522.22 199.31,522.08 201.35,521.58 203.39,520.8 205.44,520.33 207.48,520.14 209.52,519.55 211.57,519.43 213.61,519.26 215.66,518.67 217.7,518.45 219.74,518.28 221.79,517.64 223.83,517.08 225.87,516.85 227.41,516.3 228.94,515.83 230.47,515.82 232.01,515.79 233.54,516.23 235.07,516.61 236.6,516.41 238.14,516.11 239.67,515.93 241.2,515.79 242.74,515.66 244.27,515.25 245.8,514.94 247.33,514.77 248.87,514.21 250.4,514.26 252.44,513.91 254.49,513.82 256.02,513.65 257.55,513.05 259.09,513.3 260.62,512.76 262.15,513.31 263.68,513.6 265.22,513.35 266.75,513.41 268.79,513.26 270.84,513.15 272.88,513.18 274.92,512.72 276.97,512.81 279.01,512.91 280.54,512.79 282.08,513.36 283.61,513.13 285.14,513.47 286.68,512.91 288.21,512.74 289.74,512.32 291.27,511.74 293.32,511.74 295.36,511.33 297.41,511.33 299.45,511.15 301.49,511.06 303.54,510.94 305.58,510.72 307.62,510.92 309.67,510.41 311.71,510.71 313.76,510.5 315.8,510.11 317.33,510.15 318.86,509.9" fill="none" stroke="#ff0000" stroke-width="1.9" stroke-linejoin="round"/>
<rect x="53.5" y="510.8" width="266" height="15.2" fill="rgb(6,200,77)" stroke="none" stroke-width="1" fill-opacity="0.35"/>
<circle cx="178.5" cy="526.1" r="5.5" fill="none" stroke="#000" stroke-width="3.2"/>
<rect x="53.5" y="510.5" width="266" height="55.8" fill="none" stroke="#a6a6a6" stroke-width="1"/>
<line x1="91.5" y1="566.3" x2="91.5" y2="563.6" stroke="#a6a6a6" stroke-width="1"/>
<line x1="91.5" y1="510.5" x2="91.5" y2="513.2" stroke="#a6a6a6" stroke-width="1"/>
<line x1="129.5" y1="566.3" x2="129.5" y2="563.6" stroke="#a6a6a6" stroke-width="1"/>
<line x1="129.5" y1="510.5" x2="129.5" y2="513.2" stroke="#a6a6a6" stroke-width="1"/>
<line x1="167.5" y1="566.3" x2="167.5" y2="563.6" stroke="#a6a6a6" stroke-width="1"/>
<line x1="167.5" y1="510.5" x2="167.5" y2="513.2" stroke="#a6a6a6" stroke-width="1"/>
<line x1="205.5" y1="566.3" x2="205.5" y2="563.6" stroke="#a6a6a6" stroke-width="1"/>
<line x1="205.5" y1="510.5" x2="205.5" y2="513.2" stroke="#a6a6a6" stroke-width="1"/>
<line x1="243.5" y1="566.3" x2="243.5" y2="563.6" stroke="#a6a6a6" stroke-width="1"/>
<line x1="243.5" y1="510.5" x2="243.5" y2="513.2" stroke="#a6a6a6" stroke-width="1"/>
<line x1="281.5" y1="566.3" x2="281.5" y2="563.6" stroke="#a6a6a6" stroke-width="1"/>
<line x1="281.5" y1="510.5" x2="281.5" y2="513.2" stroke="#a6a6a6" stroke-width="1"/>
<line x1="53.5" y1="510.7" x2="56.2" y2="510.7" stroke="#a6a6a6" stroke-width="1"/>
<line x1="319.5" y1="510.7" x2="316.8" y2="510.7" stroke="#a6a6a6" stroke-width="1"/>
<line x1="53.5" y1="539.5" x2="56.2" y2="539.5" stroke="#a6a6a6" stroke-width="1"/>
<line x1="319.5" y1="539.5" x2="316.8" y2="539.5" stroke="#a6a6a6" stroke-width="1"/>
<text x="53.5" y="584.6" font-size="14.2" text-anchor="middle" fill="#000">26</text>
<text x="91.5" y="584.6" font-size="14.2" text-anchor="middle" fill="#000">28</text>
<text x="129.5" y="584.6" font-size="14.2" text-anchor="middle" fill="#000">30</text>
<text x="167.5" y="584.6" font-size="14.2" text-anchor="middle" fill="#000">32</text>
<text x="205.5" y="584.6" font-size="14.2" text-anchor="middle" fill="#000">34</text>
<text x="243.5" y="584.6" font-size="14.2" text-anchor="middle" fill="#000">36</text>
<text x="281.5" y="584.6" font-size="14.2" text-anchor="middle" fill="#000">38</text>
<text x="319.5" y="584.6" font-size="14.2" text-anchor="middle" fill="#000">40</text>
<text x="48" y="515.7" font-size="14.2" text-anchor="end" fill="#000">0.7</text>
<text x="48" y="544.5" font-size="14.2" text-anchor="end" fill="#000">0.6</text>
<text x="316.8" y="561.7" font-size="16.6" text-anchor="end" fill="#000">Driver 13</text>
<text x="186.5" y="605" font-size="16.5" text-anchor="middle" fill="#000">Time (s)</text>
<text x="14" y="454.6" font-size="16.5" text-anchor="middle" fill="#000" transform="rotate(-90 14 454.6)">Muscle coordinated contraction ratio</text>
<text x="-0.5" y="317.8" font-size="22.5" text-anchor="start" font-weight="bold" fill="#000">b</text>
<circle cx="61" cy="316.4" r="5.5" fill="none" stroke="#000" stroke-width="3.2"/>
<text x="71" y="322.5" font-size="16.45" text-anchor="start" fill="#000">Control reshaping completion point</text>
<line x1="448.53" y1="334.5" x2="448.53" y2="391" stroke="#efefef" stroke-width="1"/>
<line x1="486.56" y1="334.5" x2="486.56" y2="391" stroke="#efefef" stroke-width="1"/>
<line x1="524.59" y1="334.5" x2="524.59" y2="391" stroke="#efefef" stroke-width="1"/>
<line x1="562.61" y1="334.5" x2="562.61" y2="391" stroke="#efefef" stroke-width="1"/>
<line x1="600.64" y1="334.5" x2="600.64" y2="391" stroke="#efefef" stroke-width="1"/>
<line x1="638.67" y1="334.5" x2="638.67" y2="391" stroke="#efefef" stroke-width="1"/>
<line x1="410.5" y1="360.4" x2="676.7" y2="360.4" stroke="#efefef" stroke-width="1"/>
<polyline points="410.72,352.65 412.15,349.22 413.58,347.93 415.22,350.53 416.85,350.67 418.28,349.22 420.33,346.22 422.37,344.43 424.42,344.13 426.46,343.4 428.5,341.93 430.55,340.45 432.59,339.21 434.63,337.74 436.68,337.11 438.72,336.38 440.77,334.91 442.81,334.26 444.85,335.33 446.9,338.13 448.33,342.11 449.96,347.29 452.01,352.41 454.05,357.82 456.09,362.55 457.73,367.67 459.16,372.96 460.18,376.01 462.22,375.6 464.27,377.18 466.31,378.57 468.36,380.54 470.4,382.9 472.44,384.4 474.49,385.35 476.53,387.34 478.57,389.86 480.62,390.77 482.66,390.15 484.71,390.64 486.75,390.61 488.79,390.75 490.84,391.38 492.88,390.76 494.92,389.45 496.97,388.78 499.01,387.55 501.06,386.56 503.1,385.87 505.14,385.35 507.19,384.59 509.23,383.78 511.27,382.98 513.32,382.26 515.36,381.81 517.41,381.34 519.45,381.16 521.49,380.71 523.54,380.16 525.58,379.26 527.62,378.49 529.67,378.03 531.71,377.06 533.76,376.08 535.8,375.17 537.84,374.91 539.89,374.55 542.04,373.61 544.09,373.57 546.13,372.77 548.17,372.49 550.22,372.35 552.26,371.87 553.8,371.94 555.33,371.72 556.86,371.09 558.39,370.67 560.44,370.4 562.48,369.25 564.52,368.78 566.57,368.34 568.61,368.22 570.66,367.99 572.7,367.49 574.74,367.2 576.79,366.83 578.83,366.06 580.87,365.6 582.92,365.21 584.96,364.81 587.01,364.1 589.05,363.83 591.09,363.54 593.14,363.32 595.18,362.8 597.22,362.63 599.27,362.22 601.31,361.76 603.36,361.81 605.4,362.23 607.44,362.22 609.49,362.76 611.53,363.66 613.57,364.12 615.62,364.58 617.66,364.52 619.71,364.56 621.75,364.82 623.79,364.31 625.84,364.49 627.88,364.19 629.92,364.08 631.97,364.29 634.01,363.83 636.06,363.56 638.1,363.6 640.14,363.61 642.19,363.43 644.23,363.49 646.27,363.16 648.32,363.12 650.36,363.01 652.41,362.68 654.45,362.81 656.49,362.68 658.54,362.41 660.58,362.31 662.62,362.74 664.67,362.82 666.71,362.92 668.76,362.79 670.8,362.94 672.84,362.94 674.68,363.59 676.52,363.72" fill="none" stroke="#ff0000" stroke-width="1.9" stroke-linejoin="round"/>
<rect x="410.5" y="356.1" width="266.2" height="15" fill="rgb(6,200,77)" stroke="none" stroke-width="1" fill-opacity="0.35"/>
<circle cx="555.3" cy="371.9" r="5.5" fill="none" stroke="#000" stroke-width="3.2"/>
<rect x="410.5" y="334.5" width="266.2" height="56.5" fill="none" stroke="#a6a6a6" stroke-width="1"/>
<line x1="448.53" y1="391" x2="448.53" y2="388.3" stroke="#a6a6a6" stroke-width="1"/>
<line x1="448.53" y1="334.5" x2="448.53" y2="337.2" stroke="#a6a6a6" stroke-width="1"/>
<line x1="486.56" y1="391" x2="486.56" y2="388.3" stroke="#a6a6a6" stroke-width="1"/>
<line x1="486.56" y1="334.5" x2="486.56" y2="337.2" stroke="#a6a6a6" stroke-width="1"/>
<line x1="524.59" y1="391" x2="524.59" y2="388.3" stroke="#a6a6a6" stroke-width="1"/>
<line x1="524.59" y1="334.5" x2="524.59" y2="337.2" stroke="#a6a6a6" stroke-width="1"/>
<line x1="562.61" y1="391" x2="562.61" y2="388.3" stroke="#a6a6a6" stroke-width="1"/>
<line x1="562.61" y1="334.5" x2="562.61" y2="337.2" stroke="#a6a6a6" stroke-width="1"/>
<line x1="600.64" y1="391" x2="600.64" y2="388.3" stroke="#a6a6a6" stroke-width="1"/>
<line x1="600.64" y1="334.5" x2="600.64" y2="337.2" stroke="#a6a6a6" stroke-width="1"/>
<line x1="638.67" y1="391" x2="638.67" y2="388.3" stroke="#a6a6a6" stroke-width="1"/>
<line x1="638.67" y1="334.5" x2="638.67" y2="337.2" stroke="#a6a6a6" stroke-width="1"/>
<line x1="410.5" y1="360.4" x2="413.2" y2="360.4" stroke="#a6a6a6" stroke-width="1"/>
<line x1="676.7" y1="360.4" x2="674" y2="360.4" stroke="#a6a6a6" stroke-width="1"/>
<line x1="410.5" y1="391" x2="413.2" y2="391" stroke="#a6a6a6" stroke-width="1"/>
<line x1="676.7" y1="391" x2="674" y2="391" stroke="#a6a6a6" stroke-width="1"/>
<text x="410.5" y="409.8" font-size="14.2" text-anchor="middle" fill="#000">26</text>
<text x="448.53" y="409.8" font-size="14.2" text-anchor="middle" fill="#000">28</text>
<text x="486.56" y="409.8" font-size="14.2" text-anchor="middle" fill="#000">30</text>
<text x="524.59" y="409.8" font-size="14.2" text-anchor="middle" fill="#000">32</text>
<text x="562.61" y="409.8" font-size="14.2" text-anchor="middle" fill="#000">34</text>
<text x="600.64" y="409.8" font-size="14.2" text-anchor="middle" fill="#000">36</text>
<text x="638.67" y="409.8" font-size="14.2" text-anchor="middle" fill="#000">38</text>
<text x="676.7" y="409.8" font-size="14.2" text-anchor="middle" fill="#000">40</text>
<text x="405" y="365.4" font-size="14.2" text-anchor="end" fill="#000">0.6</text>
<text x="405" y="396" font-size="14.2" text-anchor="end" fill="#000">0.5</text>
<text x="669.5" y="387" font-size="16.6" text-anchor="end" fill="#000">Driver 6</text>
<line x1="443.77" y1="422.8" x2="443.77" y2="478.8" stroke="#efefef" stroke-width="1"/>
<line x1="477.05" y1="422.8" x2="477.05" y2="478.8" stroke="#efefef" stroke-width="1"/>
<line x1="510.33" y1="422.8" x2="510.33" y2="478.8" stroke="#efefef" stroke-width="1"/>
<line x1="543.6" y1="422.8" x2="543.6" y2="478.8" stroke="#efefef" stroke-width="1"/>
<line x1="576.88" y1="422.8" x2="576.88" y2="478.8" stroke="#efefef" stroke-width="1"/>
<line x1="610.15" y1="422.8" x2="610.15" y2="478.8" stroke="#efefef" stroke-width="1"/>
<line x1="643.43" y1="422.8" x2="643.43" y2="478.8" stroke="#efefef" stroke-width="1"/>
<line x1="410.5" y1="438.9" x2="676.7" y2="438.9" stroke="#efefef" stroke-width="1"/>
<line x1="410.5" y1="458.7" x2="676.7" y2="458.7" stroke="#efefef" stroke-width="1"/>
<polyline points="410.72,469.9 411.74,464.86 413.17,458.78 414.81,454.99 416.24,451.72 417.67,446.72 419.31,444.78 421.35,444.16 423.39,442.7 425.03,438.45 426.46,436.21 427.89,434.95 429.52,431.22 430.55,428.99 431.98,431.41 433.61,431.71 435.25,430.02 436.68,424.25 438.11,423.69 439.74,423.89 441.79,425.99 443.83,426.43 445.87,424.94 447.41,424.45 448.94,424.37 450.47,423.73 452.01,423.55 453.54,423.38 455.07,423.29 456.6,423.08 458.14,423.04 459.67,422.84 461.2,422.81 462.74,423.53 464.27,423.56 466.31,424.7 468.36,426.29 470.4,429.27 472.44,432.34 474.49,434.48 476.53,436.03 478.57,436.67 480.62,436.72 482.25,438.31 483.68,441.45 485.73,444.81 487.77,447.6 489.82,450.48 491.86,451.3 493.39,451.47 494.92,451.29 496.97,451.82 499.01,453.56 501.06,452.93 503.1,451.8 505.14,450.47 507.19,450.6 509.23,451.26 511.27,451.57 512.81,451.8 514.34,452.09 515.87,452.76 517.41,452.84 518.94,452.97 520.47,452.74 522,453.18 523.54,453.33 525.07,453.52 526.6,453.78 528.14,454.28 529.67,454.65 531.2,455.24 532.73,455.92 534.27,455.66 535.8,455.98 537.33,456.12 538.86,456.47 540.4,456.79 541.93,456.9 542.04,456.65 544.09,456.91 546.13,456.89 548.17,457 550.22,457.06 552.26,456.47 554.31,456.15 556.35,455.54 558.39,455 560.44,455.02 562.48,454.69 564.52,454.15 566.57,453.66 568.61,453.47 570.66,452.99 572.7,452.68 574.23,452.23 575.77,452.24 577.3,451.86 578.83,450.96 580.87,450.74 582.92,450.13 584.96,449.87 587.01,449.88 589.05,449.62 591.09,449.84 593.14,449.55 595.18,450.11 597.22,449.83 599.27,449.84 601.31,449.87 603.36,449.38 605.4,449.05 607.44,448.79 609.49,448.29 611.53,447.85 613.57,447.75 615.62,447.86 617.66,447.57 619.71,446.89 621.75,446.79 623.79,446.59 625.84,446.51 627.88,445.75 629.92,445.96 631.97,445.47 634.01,445.41 636.06,445 638.1,444.77 640.14,444.96 642.19,444.47 644.23,444.4 646.27,444.04 648.32,443.67 650.36,443.03 652.41,442.98 654.45,442.77 656.49,442.12 658.54,441.49 660.58,441.14 662.62,441.13 664.67,440.72 666.71,439.95 668.76,439.57 670.8,439.46 672.84,439.05 674.68,438.59 676.52,438.44" fill="none" stroke="#ff0000" stroke-width="1.9" stroke-linejoin="round"/>
<rect x="410.5" y="437.9" width="266.2" height="14.5" fill="rgb(6,200,77)" stroke="none" stroke-width="1" fill-opacity="0.35"/>
<circle cx="575.2" cy="452.1" r="5.5" fill="none" stroke="#000" stroke-width="3.2"/>
<rect x="410.5" y="422.8" width="266.2" height="56" fill="none" stroke="#a6a6a6" stroke-width="1"/>
<line x1="443.77" y1="478.8" x2="443.77" y2="476.1" stroke="#a6a6a6" stroke-width="1"/>
<line x1="443.77" y1="422.8" x2="443.77" y2="425.5" stroke="#a6a6a6" stroke-width="1"/>
<line x1="477.05" y1="478.8" x2="477.05" y2="476.1" stroke="#a6a6a6" stroke-width="1"/>
<line x1="477.05" y1="422.8" x2="477.05" y2="425.5" stroke="#a6a6a6" stroke-width="1"/>
<line x1="510.33" y1="478.8" x2="510.33" y2="476.1" stroke="#a6a6a6" stroke-width="1"/>
<line x1="510.33" y1="422.8" x2="510.33" y2="425.5" stroke="#a6a6a6" stroke-width="1"/>
<line x1="543.6" y1="478.8" x2="543.6" y2="476.1" stroke="#a6a6a6" stroke-width="1"/>
<line x1="543.6" y1="422.8" x2="543.6" y2="425.5" stroke="#a6a6a6" stroke-width="1"/>
<line x1="576.88" y1="478.8" x2="576.88" y2="476.1" stroke="#a6a6a6" stroke-width="1"/>
<line x1="576.88" y1="422.8" x2="576.88" y2="425.5" stroke="#a6a6a6" stroke-width="1"/>
<line x1="610.15" y1="478.8" x2="610.15" y2="476.1" stroke="#a6a6a6" stroke-width="1"/>
<line x1="610.15" y1="422.8" x2="610.15" y2="425.5" stroke="#a6a6a6" stroke-width="1"/>
<line x1="643.43" y1="478.8" x2="643.43" y2="476.1" stroke="#a6a6a6" stroke-width="1"/>
<line x1="643.43" y1="422.8" x2="643.43" y2="425.5" stroke="#a6a6a6" stroke-width="1"/>
<line x1="410.5" y1="438.9" x2="413.2" y2="438.9" stroke="#a6a6a6" stroke-width="1"/>
<line x1="676.7" y1="438.9" x2="674" y2="438.9" stroke="#a6a6a6" stroke-width="1"/>
<line x1="410.5" y1="458.7" x2="413.2" y2="458.7" stroke="#a6a6a6" stroke-width="1"/>
<line x1="676.7" y1="458.7" x2="674" y2="458.7" stroke="#a6a6a6" stroke-width="1"/>
<line x1="410.5" y1="478.5" x2="413.2" y2="478.5" stroke="#a6a6a6" stroke-width="1"/>
<line x1="676.7" y1="478.5" x2="674" y2="478.5" stroke="#a6a6a6" stroke-width="1"/>
<text x="410.5" y="497.6" font-size="14.2" text-anchor="middle" fill="#000">19</text>
<text x="443.77" y="497.6" font-size="14.2" text-anchor="middle" fill="#000">21</text>
<text x="477.05" y="497.6" font-size="14.2" text-anchor="middle" fill="#000">23</text>
<text x="510.33" y="497.6" font-size="14.2" text-anchor="middle" fill="#000">25</text>
<text x="543.6" y="497.6" font-size="14.2" text-anchor="middle" fill="#000">27</text>
<text x="576.88" y="497.6" font-size="14.2" text-anchor="middle" fill="#000">29</text>
<text x="610.15" y="497.6" font-size="14.2" text-anchor="middle" fill="#000">31</text>
<text x="643.43" y="497.6" font-size="14.2" text-anchor="middle" fill="#000">33</text>
<text x="676.7" y="497.6" font-size="14.2" text-anchor="middle" fill="#000">35</text>
<text x="405" y="443.9" font-size="14.2" text-anchor="end" fill="#000">0.8</text>
<text x="405" y="463.7" font-size="14.2" text-anchor="end" fill="#000">0.7</text>
<text x="405" y="483.5" font-size="14.2" text-anchor="end" fill="#000">0.6</text>
<text x="670.6" y="472.5" font-size="16.6" text-anchor="end" fill="#000">Driver 10</text>
<line x1="458.9" y1="510.6" x2="458.9" y2="566.2" stroke="#efefef" stroke-width="1"/>
<line x1="507.3" y1="510.6" x2="507.3" y2="566.2" stroke="#efefef" stroke-width="1"/>
<line x1="555.7" y1="510.6" x2="555.7" y2="566.2" stroke="#efefef" stroke-width="1"/>
<line x1="604.1" y1="510.6" x2="604.1" y2="566.2" stroke="#efefef" stroke-width="1"/>
<line x1="652.5" y1="510.6" x2="652.5" y2="566.2" stroke="#efefef" stroke-width="1"/>
<line x1="410.5" y1="538.5" x2="676.7" y2="538.5" stroke="#efefef" stroke-width="1"/>
<polyline points="410.72,529.97 412.15,527.96 413.58,527.23 415.22,528.39 416.85,530.01 418.9,529.31 421.35,527.28 423.8,524.87 426.46,524.9 427.99,524.47 429.52,524.01 431.06,523.63 432.59,522.79 434.12,522.34 435.66,522.18 437.19,521.21 438.72,520.23 440.25,519.72 441.79,519.3 443.32,518.88 444.85,518.95 446.39,518.61 447.92,518.04 450.37,517.44 452.41,517.89 454.05,518.93 455.68,521.44 457.73,524.22 459.16,527.26 461.2,530.79 463.25,534.53 465.29,537.97 467.33,541.99 469.38,545.59 471.42,549.77 472.44,551.51 474.49,551.88 476.53,551.89 478.57,553.19 480.62,554.68 482.66,555.59 484.71,556.65 486.75,557.98 488.79,559.17 490.84,559.95 492.88,561.39 494.92,563.37 496.97,564.71 499.01,564.69 501.06,564.5 503.1,564.69 505.14,564.79 507.19,565.07 509.23,565.59 511.27,565.75 513.32,565.55 515.36,565.57 517.41,564.86 519.45,564.26 521.49,563.38 523.54,562.65 525.58,561.96 527.62,561.11 529.67,560.58 531.71,560.38 533.76,559.92 535.8,559.5 537.84,558.56 539.89,558.53 542.04,558.51 544.09,558.57 546.13,558.11 548.17,557.64 550.22,557.41 552.26,556.81 554.31,556.03 556.35,555.68 558.39,555.13 560.44,554.23 562.48,553.64 564.52,553.28 566.57,552.94 568.61,552.4 570.66,552.07 572.7,551.81 574.74,551.48 576.79,551.58 578.83,551.32 580.87,550.77 582.92,550.13 584.96,549.91 587.01,549.81 589.05,549.26 591.09,548.95 593.14,548.78 595.18,548.74 597.22,548.39 599.27,547.91 601.31,547.78 603.36,547.44 605.4,547.13 607.44,546.65 609.49,546.05 611.53,545.93 613.57,545.68 615.62,545.34 617.66,544.98 619.71,544.59 621.75,544.25 623.79,544.11 625.84,543.69 627.88,543.43 629.92,542.88 631.97,542.5 634.01,542.29 636.06,542.24 638.1,542.03 640.14,541.53 642.19,541.22 644.23,541.5 646.27,540.96 648.32,541.18 650.36,540.9 652.41,540.7 654.45,540.81 656.49,540.86 658.54,540.72 660.58,541.6 662.62,541.74 664.67,542.4 666.71,542.76 668.76,542.63 670.8,542.78 672.71,542.77 674.61,543.15 676.52,543.01" fill="none" stroke="#ff0000" stroke-width="1.9" stroke-linejoin="round"/>
<rect x="410.5" y="535.3" width="266.2" height="13.7" fill="rgb(6,200,77)" stroke="none" stroke-width="1" fill-opacity="0.35"/>
<circle cx="597.2" cy="549.4" r="5.5" fill="none" stroke="#000" stroke-width="3.2"/>
<rect x="410.5" y="510.6" width="266.2" height="55.6" fill="none" stroke="#a6a6a6" stroke-width="1"/>
<line x1="458.9" y1="566.2" x2="458.9" y2="563.5" stroke="#a6a6a6" stroke-width="1"/>
<line x1="458.9" y1="510.6" x2="458.9" y2="513.3" stroke="#a6a6a6" stroke-width="1"/>
<line x1="507.3" y1="566.2" x2="507.3" y2="563.5" stroke="#a6a6a6" stroke-width="1"/>
<line x1="507.3" y1="510.6" x2="507.3" y2="513.3" stroke="#a6a6a6" stroke-width="1"/>
<line x1="555.7" y1="566.2" x2="555.7" y2="563.5" stroke="#a6a6a6" stroke-width="1"/>
<line x1="555.7" y1="510.6" x2="555.7" y2="513.3" stroke="#a6a6a6" stroke-width="1"/>
<line x1="604.1" y1="566.2" x2="604.1" y2="563.5" stroke="#a6a6a6" stroke-width="1"/>
<line x1="604.1" y1="510.6" x2="604.1" y2="513.3" stroke="#a6a6a6" stroke-width="1"/>
<line x1="652.5" y1="566.2" x2="652.5" y2="563.5" stroke="#a6a6a6" stroke-width="1"/>
<line x1="652.5" y1="510.6" x2="652.5" y2="513.3" stroke="#a6a6a6" stroke-width="1"/>
<line x1="410.5" y1="511" x2="413.2" y2="511" stroke="#a6a6a6" stroke-width="1"/>
<line x1="676.7" y1="511" x2="674" y2="511" stroke="#a6a6a6" stroke-width="1"/>
<line x1="410.5" y1="538.5" x2="413.2" y2="538.5" stroke="#a6a6a6" stroke-width="1"/>
<line x1="676.7" y1="538.5" x2="674" y2="538.5" stroke="#a6a6a6" stroke-width="1"/>
<line x1="410.5" y1="566" x2="413.2" y2="566" stroke="#a6a6a6" stroke-width="1"/>
<line x1="676.7" y1="566" x2="674" y2="566" stroke="#a6a6a6" stroke-width="1"/>
<text x="410.5" y="584.6" font-size="14.2" text-anchor="middle" fill="#000">29</text>
<text x="458.9" y="584.6" font-size="14.2" text-anchor="middle" fill="#000">31</text>
<text x="507.3" y="584.6" font-size="14.2" text-anchor="middle" fill="#000">33</text>
<text x="555.7" y="584.6" font-size="14.2" text-anchor="middle" fill="#000">35</text>
<text x="604.1" y="584.6" font-size="14.2" text-anchor="middle" fill="#000">37</text>
<text x="652.5" y="584.6" font-size="14.2" text-anchor="middle" fill="#000">39</text>
<text x="676.7" y="584.6" font-size="14.2" text-anchor="middle" fill="#000">40</text>
<text x="405" y="516" font-size="14.2" text-anchor="end" fill="#000">0.7</text>
<text x="405" y="543.5" font-size="14.2" text-anchor="end" fill="#000">0.6</text>
<text x="405" y="571" font-size="14.2" text-anchor="end" fill="#000">0.5</text>
<text x="670.4" y="561.6" font-size="16.6" text-anchor="end" fill="#000">Driver 9</text>
<text x="543.5" y="605" font-size="16.5" text-anchor="middle" fill="#000">Time (s)</text>
<text x="373.4" y="454.4" font-size="16.5" text-anchor="middle" fill="#000" transform="rotate(-90 373.4 454.4)">Muscle coordinated contraction ratio</text>
<text x="362.6" y="317.6" font-size="22.5" text-anchor="start" font-weight="bold" fill="#000">c</text>
<rect x="454.5" y="308.9" width="39.7" height="14.9" fill="rgb(6,200,77)" stroke="none" stroke-width="1" fill-opacity="0.35"/>
<text x="498" y="322.9" font-size="16.45" text-anchor="start" fill="#000">Stable control area</text>
<line x1="410.66" y1="639.5" x2="410.66" y2="832.6" stroke="#f1f1f1" stroke-width="1"/>
<line x1="428.71" y1="639.5" x2="428.71" y2="832.6" stroke="#f1f1f1" stroke-width="1"/>
<line x1="446.77" y1="639.5" x2="446.77" y2="832.6" stroke="#f1f1f1" stroke-width="1"/>
<line x1="464.83" y1="639.5" x2="464.83" y2="832.6" stroke="#f1f1f1" stroke-width="1"/>
<line x1="482.88" y1="639.5" x2="482.88" y2="832.6" stroke="#f1f1f1" stroke-width="1"/>
<line x1="500.94" y1="639.5" x2="500.94" y2="832.6" stroke="#f1f1f1" stroke-width="1"/>
<line x1="518.99" y1="639.5" x2="518.99" y2="832.6" stroke="#f1f1f1" stroke-width="1"/>
<line x1="537.05" y1="639.5" x2="537.05" y2="832.6" stroke="#f1f1f1" stroke-width="1"/>
<line x1="555.11" y1="639.5" x2="555.11" y2="832.6" stroke="#f1f1f1" stroke-width="1"/>
<line x1="573.16" y1="639.5" x2="573.16" y2="832.6" stroke="#f1f1f1" stroke-width="1"/>
<line x1="591.22" y1="639.5" x2="591.22" y2="832.6" stroke="#f1f1f1" stroke-width="1"/>
<line x1="609.27" y1="639.5" x2="609.27" y2="832.6" stroke="#f1f1f1" stroke-width="1"/>
<line x1="627.33" y1="639.5" x2="627.33" y2="832.6" stroke="#f1f1f1" stroke-width="1"/>
<line x1="645.39" y1="639.5" x2="645.39" y2="832.6" stroke="#f1f1f1" stroke-width="1"/>
<line x1="663.44" y1="639.5" x2="663.44" y2="832.6" stroke="#f1f1f1" stroke-width="1"/>
<line x1="392.6" y1="800.42" x2="681.5" y2="800.42" stroke="#f1f1f1" stroke-width="1"/>
<line x1="392.6" y1="768.23" x2="681.5" y2="768.23" stroke="#f1f1f1" stroke-width="1"/>
<line x1="392.6" y1="736.05" x2="681.5" y2="736.05" stroke="#f1f1f1" stroke-width="1"/>
<line x1="392.6" y1="703.87" x2="681.5" y2="703.87" stroke="#f1f1f1" stroke-width="1"/>
<line x1="392.6" y1="671.68" x2="681.5" y2="671.68" stroke="#f1f1f1" stroke-width="1"/>
<line x1="410.66" y1="644.2" x2="410.66" y2="648.1" stroke="#555555" stroke-width="1"/>
<line x1="408.36" y1="644.2" x2="412.96" y2="644.2" stroke="#555555" stroke-width="1"/>
<line x1="410.66" y1="688.6" x2="410.66" y2="691.8" stroke="#555555" stroke-width="1"/>
<line x1="408.36" y1="691.8" x2="412.96" y2="691.8" stroke="#555555" stroke-width="1"/>
<rect x="405.96" y="648.1" width="9.4" height="40.5" fill="#d3e7f2" stroke="#7fb0da" stroke-width="1"/>
<line x1="405.96" y1="654.4" x2="415.36" y2="654.4" stroke="#7fb0da" stroke-width="1.2"/>
<line x1="428.71" y1="648.5" x2="428.71" y2="653.1" stroke="#555555" stroke-width="1"/>
<line x1="426.41" y1="648.5" x2="431.01" y2="648.5" stroke="#555555" stroke-width="1"/>
<rect x="424.01" y="653.1" width="9.4" height="6.9" fill="#d3e7f2" stroke="#7fb0da" stroke-width="1"/>
<line x1="424.01" y1="654.7" x2="433.41" y2="654.7" stroke="#7fb0da" stroke-width="1.2"/>
<ellipse cx="428.71" cy="678.1" rx="1.6" ry="1.3" fill="none" stroke="#4a90d0" stroke-width="0.9"/>
<line x1="446.77" y1="644.5" x2="446.77" y2="644.9" stroke="#555555" stroke-width="1"/>
<line x1="444.47" y1="644.5" x2="449.07" y2="644.5" stroke="#555555" stroke-width="1"/>
<line x1="446.77" y1="688.2" x2="446.77" y2="693.2" stroke="#555555" stroke-width="1"/>
<line x1="444.47" y1="693.2" x2="449.07" y2="693.2" stroke="#555555" stroke-width="1"/>
<rect x="442.07" y="644.9" width="9.4" height="43.3" fill="#d3e7f2" stroke="#7fb0da" stroke-width="1"/>
<line x1="442.07" y1="644.9" x2="451.47" y2="644.9" stroke="#7fb0da" stroke-width="1.2"/>
<line x1="464.83" y1="681" x2="464.83" y2="683" stroke="#555555" stroke-width="1"/>
<line x1="462.53" y1="681" x2="467.13" y2="681" stroke="#555555" stroke-width="1"/>
<line x1="464.83" y1="689.3" x2="464.83" y2="694.4" stroke="#555555" stroke-width="1"/>
<line x1="462.53" y1="694.4" x2="467.13" y2="694.4" stroke="#555555" stroke-width="1"/>
<rect x="460.13" y="683" width="9.4" height="6.3" fill="#d3e7f2" stroke="#7fb0da" stroke-width="1"/>
<line x1="460.13" y1="685.6" x2="469.53" y2="685.6" stroke="#7fb0da" stroke-width="1.2"/>
<line x1="482.88" y1="726.4" x2="482.88" y2="730.3" stroke="#555555" stroke-width="1"/>
<line x1="480.58" y1="726.4" x2="485.18" y2="726.4" stroke="#555555" stroke-width="1"/>
<line x1="482.88" y1="760.4" x2="482.88" y2="763.2" stroke="#555555" stroke-width="1"/>
<line x1="480.58" y1="763.2" x2="485.18" y2="763.2" stroke="#555555" stroke-width="1"/>
<rect x="478.18" y="730.3" width="9.4" height="30.1" fill="#d3e7f2" stroke="#7fb0da" stroke-width="1"/>
<line x1="478.18" y1="730.3" x2="487.58" y2="730.3" stroke="#7fb0da" stroke-width="1.2"/>
<line x1="500.94" y1="711.4" x2="500.94" y2="720.1" stroke="#555555" stroke-width="1"/>
<line x1="498.64" y1="711.4" x2="503.24" y2="711.4" stroke="#555555" stroke-width="1"/>
<line x1="500.94" y1="743.4" x2="500.94" y2="744.3" stroke="#555555" stroke-width="1"/>
<line x1="498.64" y1="744.3" x2="503.24" y2="744.3" stroke="#555555" stroke-width="1"/>
<rect x="496.24" y="720.1" width="9.4" height="23.3" fill="#d3e7f2" stroke="#7fb0da" stroke-width="1"/>
<line x1="496.24" y1="727.3" x2="505.64" y2="727.3" stroke="#7fb0da" stroke-width="1.2"/>
<line x1="518.99" y1="708.4" x2="518.99" y2="732" stroke="#555555" stroke-width="1"/>
<line x1="516.69" y1="708.4" x2="521.29" y2="708.4" stroke="#555555" stroke-width="1"/>
<line x1="518.99" y1="757.4" x2="518.99" y2="758.3" stroke="#555555" stroke-width="1"/>
<line x1="516.69" y1="758.3" x2="521.29" y2="758.3" stroke="#555555" stroke-width="1"/>
<rect x="514.29" y="732" width="9.4" height="25.4" fill="#d3e7f2" stroke="#7fb0da" stroke-width="1"/>
<line x1="514.29" y1="748.3" x2="523.69" y2="748.3" stroke="#7fb0da" stroke-width="1.2"/>
<line x1="537.05" y1="713.1" x2="537.05" y2="723.3" stroke="#555555" stroke-width="1"/>
<line x1="534.75" y1="713.1" x2="539.35" y2="713.1" stroke="#555555" stroke-width="1"/>
<line x1="537.05" y1="761.8" x2="537.05" y2="762.2" stroke="#555555" stroke-width="1"/>
<line x1="534.75" y1="762.2" x2="539.35" y2="762.2" stroke="#555555" stroke-width="1"/>
<rect x="532.35" y="723.3" width="9.4" height="38.5" fill="#d3e7f2" stroke="#7fb0da" stroke-width="1"/>
<line x1="532.35" y1="730" x2="541.75" y2="730" stroke="#7fb0da" stroke-width="1.2"/>
<line x1="555.11" y1="708.4" x2="555.11" y2="713.3" stroke="#555555" stroke-width="1"/>
<line x1="552.81" y1="708.4" x2="557.41" y2="708.4" stroke="#555555" stroke-width="1"/>
<line x1="555.11" y1="746.4" x2="555.11" y2="752.2" stroke="#555555" stroke-width="1"/>
<line x1="552.81" y1="752.2" x2="557.41" y2="752.2" stroke="#555555" stroke-width="1"/>
<rect x="550.41" y="713.3" width="9.4" height="33.1" fill="#d3e7f2" stroke="#7fb0da" stroke-width="1"/>
<line x1="550.41" y1="741.3" x2="559.81" y2="741.3" stroke="#7fb0da" stroke-width="1.2"/>
<line x1="573.16" y1="710.5" x2="573.16" y2="727.7" stroke="#555555" stroke-width="1"/>
<line x1="570.86" y1="710.5" x2="575.46" y2="710.5" stroke="#555555" stroke-width="1"/>
<line x1="573.16" y1="742.6" x2="573.16" y2="752.2" stroke="#555555" stroke-width="1"/>
<line x1="570.86" y1="752.2" x2="575.46" y2="752.2" stroke="#555555" stroke-width="1"/>
<rect x="568.46" y="727.7" width="9.4" height="14.9" fill="#d3e7f2" stroke="#7fb0da" stroke-width="1"/>
<line x1="568.46" y1="734.7" x2="577.86" y2="734.7" stroke="#7fb0da" stroke-width="1.2"/>
<line x1="591.22" y1="758.5" x2="591.22" y2="769.4" stroke="#555555" stroke-width="1"/>
<line x1="588.92" y1="758.5" x2="593.52" y2="758.5" stroke="#555555" stroke-width="1"/>
<line x1="591.22" y1="802.6" x2="591.22" y2="803.4" stroke="#555555" stroke-width="1"/>
<line x1="588.92" y1="803.4" x2="593.52" y2="803.4" stroke="#555555" stroke-width="1"/>
<rect x="586.52" y="769.4" width="9.4" height="33.2" fill="#d3e7f2" stroke="#7fb0da" stroke-width="1"/>
<line x1="586.52" y1="802.6" x2="595.92" y2="802.6" stroke="#7fb0da" stroke-width="1.2"/>
<line x1="609.27" y1="754.1" x2="609.27" y2="763.3" stroke="#555555" stroke-width="1"/>
<line x1="606.98" y1="754.1" x2="611.57" y2="754.1" stroke="#555555" stroke-width="1"/>
<rect x="604.57" y="763.3" width="9.4" height="19.3" fill="#d3e7f2" stroke="#7fb0da" stroke-width="1"/>
<line x1="604.57" y1="767.3" x2="613.98" y2="767.3" stroke="#7fb0da" stroke-width="1.2"/>
<ellipse cx="609.27" cy="811.8" rx="1.6" ry="1.3" fill="none" stroke="#4a90d0" stroke-width="0.9"/>
<line x1="627.33" y1="752.8" x2="627.33" y2="778.1" stroke="#555555" stroke-width="1"/>
<line x1="625.03" y1="752.8" x2="629.63" y2="752.8" stroke="#555555" stroke-width="1"/>
<line x1="627.33" y1="805.5" x2="627.33" y2="808.3" stroke="#555555" stroke-width="1"/>
<line x1="625.03" y1="808.3" x2="629.63" y2="808.3" stroke="#555555" stroke-width="1"/>
<rect x="622.63" y="778.1" width="9.4" height="27.4" fill="#d3e7f2" stroke="#7fb0da" stroke-width="1"/>
<line x1="622.63" y1="797" x2="632.03" y2="797" stroke="#7fb0da" stroke-width="1.2"/>
<line x1="645.39" y1="797" x2="645.39" y2="804.2" stroke="#555555" stroke-width="1"/>
<line x1="643.09" y1="804.2" x2="647.69" y2="804.2" stroke="#555555" stroke-width="1"/>
<rect x="640.69" y="783.4" width="9.4" height="13.6" fill="#d3e7f2" stroke="#7fb0da" stroke-width="1"/>
<line x1="640.69" y1="783.4" x2="650.09" y2="783.4" stroke="#7fb0da" stroke-width="1.2"/>
<ellipse cx="645.39" cy="762" rx="1.6" ry="1.3" fill="none" stroke="#4a90d0" stroke-width="0.9"/>
<line x1="663.44" y1="768.6" x2="663.44" y2="772.4" stroke="#555555" stroke-width="1"/>
<line x1="661.14" y1="768.6" x2="665.74" y2="768.6" stroke="#555555" stroke-width="1"/>
<line x1="663.44" y1="787.4" x2="663.44" y2="803.4" stroke="#555555" stroke-width="1"/>
<line x1="661.14" y1="803.4" x2="665.74" y2="803.4" stroke="#555555" stroke-width="1"/>
<rect x="658.74" y="772.4" width="9.4" height="15" fill="#d3e7f2" stroke="#7fb0da" stroke-width="1"/>
<line x1="658.74" y1="787.4" x2="668.14" y2="787.4" stroke="#7fb0da" stroke-width="1.2"/>
<line x1="405.2" y1="663.9" x2="474.5" y2="663.9" stroke="#000" stroke-width="2.8"/>
<line x1="478" y1="738.5" x2="578.3" y2="738.5" stroke="#000" stroke-width="2.8"/>
<line x1="587.3" y1="785" x2="668.3" y2="785" stroke="#000" stroke-width="2.8"/>
<line x1="474.4" y1="640.5" x2="474.4" y2="830" stroke="#40bf4a" stroke-width="2.2" stroke-dasharray="5 2.3"/>
<line x1="582.1" y1="640.5" x2="582.1" y2="830" stroke="#40bf4a" stroke-width="2.2" stroke-dasharray="5 2.3"/>
<rect x="392.6" y="639.5" width="288.9" height="193.1" fill="none" stroke="#a6a6a6" stroke-width="1"/>
<line x1="410.66" y1="832.6" x2="410.66" y2="829.7" stroke="#a6a6a6" stroke-width="1"/>
<line x1="410.66" y1="639.5" x2="410.66" y2="642.4" stroke="#a6a6a6" stroke-width="1"/>
<line x1="428.71" y1="832.6" x2="428.71" y2="829.7" stroke="#a6a6a6" stroke-width="1"/>
<line x1="428.71" y1="639.5" x2="428.71" y2="642.4" stroke="#a6a6a6" stroke-width="1"/>
<line x1="446.77" y1="832.6" x2="446.77" y2="829.7" stroke="#a6a6a6" stroke-width="1"/>
<line x1="446.77" y1="639.5" x2="446.77" y2="642.4" stroke="#a6a6a6" stroke-width="1"/>
<line x1="464.83" y1="832.6" x2="464.83" y2="829.7" stroke="#a6a6a6" stroke-width="1"/>
<line x1="464.83" y1="639.5" x2="464.83" y2="642.4" stroke="#a6a6a6" stroke-width="1"/>
<line x1="482.88" y1="832.6" x2="482.88" y2="829.7" stroke="#a6a6a6" stroke-width="1"/>
<line x1="482.88" y1="639.5" x2="482.88" y2="642.4" stroke="#a6a6a6" stroke-width="1"/>
<line x1="500.94" y1="832.6" x2="500.94" y2="829.7" stroke="#a6a6a6" stroke-width="1"/>
<line x1="500.94" y1="639.5" x2="500.94" y2="642.4" stroke="#a6a6a6" stroke-width="1"/>
<line x1="518.99" y1="832.6" x2="518.99" y2="829.7" stroke="#a6a6a6" stroke-width="1"/>
<line x1="518.99" y1="639.5" x2="518.99" y2="642.4" stroke="#a6a6a6" stroke-width="1"/>
<line x1="537.05" y1="832.6" x2="537.05" y2="829.7" stroke="#a6a6a6" stroke-width="1"/>
<line x1="537.05" y1="639.5" x2="537.05" y2="642.4" stroke="#a6a6a6" stroke-width="1"/>
<line x1="555.11" y1="832.6" x2="555.11" y2="829.7" stroke="#a6a6a6" stroke-width="1"/>
<line x1="555.11" y1="639.5" x2="555.11" y2="642.4" stroke="#a6a6a6" stroke-width="1"/>
<line x1="573.16" y1="832.6" x2="573.16" y2="829.7" stroke="#a6a6a6" stroke-width="1"/>
<line x1="573.16" y1="639.5" x2="573.16" y2="642.4" stroke="#a6a6a6" stroke-width="1"/>
<line x1="591.22" y1="832.6" x2="591.22" y2="829.7" stroke="#a6a6a6" stroke-width="1"/>
<line x1="591.22" y1="639.5" x2="591.22" y2="642.4" stroke="#a6a6a6" stroke-width="1"/>
<line x1="609.27" y1="832.6" x2="609.27" y2="829.7" stroke="#a6a6a6" stroke-width="1"/>
<line x1="609.27" y1="639.5" x2="609.27" y2="642.4" stroke="#a6a6a6" stroke-width="1"/>
<line x1="627.33" y1="832.6" x2="627.33" y2="829.7" stroke="#a6a6a6" stroke-width="1"/>
<line x1="627.33" y1="639.5" x2="627.33" y2="642.4" stroke="#a6a6a6" stroke-width="1"/>
<line x1="645.39" y1="832.6" x2="645.39" y2="829.7" stroke="#a6a6a6" stroke-width="1"/>
<line x1="645.39" y1="639.5" x2="645.39" y2="642.4" stroke="#a6a6a6" stroke-width="1"/>
<line x1="663.44" y1="832.6" x2="663.44" y2="829.7" stroke="#a6a6a6" stroke-width="1"/>
<line x1="663.44" y1="639.5" x2="663.44" y2="642.4" stroke="#a6a6a6" stroke-width="1"/>
<line x1="392.6" y1="832.6" x2="395.5" y2="832.6" stroke="#a6a6a6" stroke-width="1"/>
<line x1="681.5" y1="832.6" x2="678.6" y2="832.6" stroke="#a6a6a6" stroke-width="1"/>
<line x1="392.6" y1="800.42" x2="395.5" y2="800.42" stroke="#a6a6a6" stroke-width="1"/>
<line x1="681.5" y1="800.42" x2="678.6" y2="800.42" stroke="#a6a6a6" stroke-width="1"/>
<line x1="392.6" y1="768.23" x2="395.5" y2="768.23" stroke="#a6a6a6" stroke-width="1"/>
<line x1="681.5" y1="768.23" x2="678.6" y2="768.23" stroke="#a6a6a6" stroke-width="1"/>
<line x1="392.6" y1="736.05" x2="395.5" y2="736.05" stroke="#a6a6a6" stroke-width="1"/>
<line x1="681.5" y1="736.05" x2="678.6" y2="736.05" stroke="#a6a6a6" stroke-width="1"/>
<line x1="392.6" y1="703.87" x2="395.5" y2="703.87" stroke="#a6a6a6" stroke-width="1"/>
<line x1="681.5" y1="703.87" x2="678.6" y2="703.87" stroke="#a6a6a6" stroke-width="1"/>
<line x1="392.6" y1="671.68" x2="395.5" y2="671.68" stroke="#a6a6a6" stroke-width="1"/>
<line x1="681.5" y1="671.68" x2="678.6" y2="671.68" stroke="#a6a6a6" stroke-width="1"/>
<line x1="392.6" y1="639.5" x2="395.5" y2="639.5" stroke="#a6a6a6" stroke-width="1"/>
<line x1="681.5" y1="639.5" x2="678.6" y2="639.5" stroke="#a6a6a6" stroke-width="1"/>
<text x="390" y="837.6" font-size="14" text-anchor="end" fill="#000">5</text>
<text x="390" y="805.42" font-size="14" text-anchor="end" fill="#000">6</text>
<text x="390" y="773.23" font-size="14" text-anchor="end" fill="#000">7</text>
<text x="390" y="741.05" font-size="14" text-anchor="end" fill="#000">8</text>
<text x="390" y="708.87" font-size="14" text-anchor="end" fill="#000">9</text>
<text x="390" y="676.68" font-size="14" text-anchor="end" fill="#000">10</text>
<text x="390" y="644.5" font-size="14" text-anchor="end" fill="#000">11</text>
<text x="410.66" y="848.1" font-size="14" text-anchor="middle" fill="#000">1</text>
<text x="428.71" y="848.1" font-size="14" text-anchor="middle" fill="#000">7</text>
<text x="446.77" y="848.1" font-size="14" text-anchor="middle" fill="#000">8</text>
<text x="464.83" y="848.1" font-size="14" text-anchor="middle" fill="#000">10</text>
<text x="482.88" y="848.1" font-size="14" text-anchor="middle" fill="#000">2</text>
<text x="500.94" y="848.1" font-size="14" text-anchor="middle" fill="#000">6</text>
<text x="518.99" y="848.1" font-size="14" text-anchor="middle" fill="#000">9</text>
<text x="537.05" y="848.1" font-size="14" text-anchor="middle" fill="#000">11</text>
<text x="555.11" y="848.1" font-size="14" text-anchor="middle" fill="#000">14</text>
<text x="573.16" y="848.1" font-size="14" text-anchor="middle" fill="#000">15</text>
<text x="591.22" y="848.1" font-size="14" text-anchor="middle" fill="#000">3</text>
<text x="609.27" y="848.1" font-size="14" text-anchor="middle" fill="#000">4</text>
<text x="627.33" y="848.1" font-size="14" text-anchor="middle" fill="#000">5</text>
<text x="645.39" y="848.1" font-size="14" text-anchor="middle" fill="#000">12</text>
<text x="663.44" y="848.1" font-size="14" text-anchor="middle" fill="#000">13</text>
<text x="543.8" y="870" font-size="16.5" text-anchor="middle" fill="#000">Driver</text>
<text x="370.8" y="736.1" font-size="16.5" text-anchor="middle" fill="#000" transform="rotate(-90 370.8 736.1)">Control reshaping time (s)</text>
<text x="432.4" y="730" font-size="15" text-anchor="middle" font-weight="bold" fill="#000">Novice</text>
<text x="432.4" y="742.3" font-size="15" text-anchor="middle" font-weight="bold" fill="#000">driver</text>
<text x="528.2" y="682.8" font-size="15" text-anchor="middle" font-weight="bold" fill="#000">General</text>
<text x="528.2" y="695" font-size="15" text-anchor="middle" font-weight="bold" fill="#000">driver</text>
<text x="630.8" y="730" font-size="15" text-anchor="middle" font-weight="bold" fill="#000">Skilled</text>
<text x="630.8" y="742.3" font-size="15" text-anchor="middle" font-weight="bold" fill="#000">driver</text>
<rect x="393.5" y="613.5" width="286" height="21.6" fill="#fff" stroke="#8a8a8a" stroke-width="1"/>
<rect x="398.3" y="617.3" width="12.2" height="13.8" fill="#bcd6e4" stroke="#8dbbe0" stroke-width="0.8"/>
<text x="416" y="628.6" font-size="13.3" text-anchor="start" fill="#000">25%~75%</text>
<line x1="488.1" y1="619.5" x2="488.1" y2="628.8" stroke="#333" stroke-width="1.3"/>
<line x1="484.6" y1="619.5" x2="491.6" y2="619.5" stroke="#333" stroke-width="1.3"/>
<line x1="484.6" y1="628.8" x2="491.6" y2="628.8" stroke="#333" stroke-width="1.3"/>
<text x="498.5" y="628.6" font-size="13.3" text-anchor="start" fill="#000">1.5 IQR</text>
<line x1="549.5" y1="624.1" x2="563.1" y2="624.1" stroke="#6fa8dc" stroke-width="1.6"/>
<text x="568.6" y="628.6" font-size="13.3" text-anchor="start" fill="#000">Median</text>
<circle cx="620.8" cy="624.1" r="2.6" fill="none" stroke="#4a90d0" stroke-width="1"/>
<text x="629" y="628.6" font-size="13.3" text-anchor="start" fill="#000">outliers</text>
<text x="362.4" y="619.6" font-size="22.5" text-anchor="start" font-weight="bold" fill="#000">e</text>
<line x1="44" y1="662" x2="44" y2="775.05" stroke="#e9e9e9" stroke-width="0.9"/>
<line x1="52.15" y1="654.28" x2="52.15" y2="777.8" stroke="#e9e9e9" stroke-width="0.9"/>
<line x1="60.3" y1="646.56" x2="60.3" y2="780.55" stroke="#e9e9e9" stroke-width="0.9"/>
<line x1="68.45" y1="638.84" x2="68.45" y2="783.31" stroke="#e9e9e9" stroke-width="0.9"/>
<line x1="76.6" y1="631.12" x2="76.6" y2="786.06" stroke="#e9e9e9" stroke-width="0.9"/>
<line x1="84.75" y1="623.4" x2="84.75" y2="788.82" stroke="#e9e9e9" stroke-width="0.9"/>
<line x1="43.4" y1="671.2" x2="87.7" y2="627.4" stroke="#e9e9e9" stroke-width="0.9"/>
<line x1="43.4" y1="722" x2="87.7" y2="678.2" stroke="#e9e9e9" stroke-width="0.9"/>
<line x1="101.9" y1="623.6" x2="101.9" y2="743.6" stroke="#e9e9e9" stroke-width="0.9"/>
<line x1="116.13" y1="628.41" x2="116.13" y2="748.41" stroke="#e9e9e9" stroke-width="0.9"/>
<line x1="130.36" y1="633.22" x2="130.36" y2="753.22" stroke="#e9e9e9" stroke-width="0.9"/>
<line x1="144.59" y1="638.03" x2="144.59" y2="758.03" stroke="#e9e9e9" stroke-width="0.9"/>
<line x1="158.82" y1="642.84" x2="158.82" y2="762.84" stroke="#e9e9e9" stroke-width="0.9"/>
<line x1="173.05" y1="647.65" x2="173.05" y2="767.65" stroke="#e9e9e9" stroke-width="0.9"/>
<line x1="187.28" y1="652.46" x2="187.28" y2="772.46" stroke="#e9e9e9" stroke-width="0.9"/>
<line x1="201.51" y1="657.27" x2="201.51" y2="777.27" stroke="#e9e9e9" stroke-width="0.9"/>
<line x1="215.74" y1="662.08" x2="215.74" y2="782.08" stroke="#e9e9e9" stroke-width="0.9"/>
<line x1="229.97" y1="666.89" x2="229.97" y2="786.89" stroke="#e9e9e9" stroke-width="0.9"/>
<line x1="244.2" y1="671.7" x2="244.2" y2="791.7" stroke="#e9e9e9" stroke-width="0.9"/>
<line x1="258.43" y1="676.51" x2="258.43" y2="796.51" stroke="#e9e9e9" stroke-width="0.9"/>
<line x1="272.66" y1="681.32" x2="272.66" y2="801.32" stroke="#e9e9e9" stroke-width="0.9"/>
<line x1="286.89" y1="686.13" x2="286.89" y2="806.13" stroke="#e9e9e9" stroke-width="0.9"/>
<line x1="301.12" y1="690.94" x2="301.12" y2="810.94" stroke="#e9e9e9" stroke-width="0.9"/>
<line x1="87.7" y1="627.4" x2="306" y2="701.19" stroke="#e9e9e9" stroke-width="0.9"/>
<line x1="87.7" y1="677.9" x2="306" y2="751.69" stroke="#e9e9e9" stroke-width="0.9"/>
<polygon points="100.29,744.14 106.57,738.3 106.57,628.21 100.29,634.05" fill="#e9f93c" stroke="#3a3a3a" stroke-width="0.55" stroke-opacity="0.55" stroke-linejoin="round"/>
<polygon points="88.91,740.3 100.29,744.14 100.29,634.05 88.91,630.21" fill="#e9f93c" stroke="#3a3a3a" stroke-width="0.55" stroke-opacity="0.55" stroke-linejoin="round"/>
<polygon points="88.91,630.21 100.29,634.05 106.57,628.21 95.19,624.37" fill="#e9f93c" stroke="#3a3a3a" stroke-width="0.55" stroke-opacity="0.55" stroke-linejoin="round"/>
<polygon points="114.52,748.95 120.8,743.11 120.8,633.83 114.52,639.67" fill="#e9f93c" stroke="#3a3a3a" stroke-width="0.55" stroke-opacity="0.55" stroke-linejoin="round"/>
<polygon points="103.14,745.11 114.52,748.95 114.52,639.67 103.14,635.82" fill="#e9f93c" stroke="#3a3a3a" stroke-width="0.55" stroke-opacity="0.55" stroke-linejoin="round"/>
<polygon points="103.14,635.82 114.52,639.67 120.8,633.83 109.42,629.98" fill="#e9f93c" stroke="#3a3a3a" stroke-width="0.55" stroke-opacity="0.55" stroke-linejoin="round"/>
<polygon points="128.75,753.76 135.03,747.92 135.03,646.92 128.75,652.76" fill="#e9f93c" stroke="#3a3a3a" stroke-width="0.55" stroke-opacity="0.55" stroke-linejoin="round"/>
<polygon points="117.37,749.92 128.75,753.76 128.75,652.76 117.37,648.92" fill="#e9f93c" stroke="#3a3a3a" stroke-width="0.55" stroke-opacity="0.55" stroke-linejoin="round"/>
<polygon points="117.37,648.92 128.75,652.76 135.03,646.92 123.65,643.08" fill="#e9f93c" stroke="#3a3a3a" stroke-width="0.55" stroke-opacity="0.55" stroke-linejoin="round"/>
<polygon points="142.98,758.57 149.26,752.73 149.26,653.05 142.98,658.89" fill="#e9f93c" stroke="#3a3a3a" stroke-width="0.55" stroke-opacity="0.55" stroke-linejoin="round"/>
<polygon points="131.6,754.73 142.98,758.57 142.98,658.89 131.6,655.04" fill="#e9f93c" stroke="#3a3a3a" stroke-width="0.55" stroke-opacity="0.55" stroke-linejoin="round"/>
<polygon points="131.6,655.04 142.98,658.89 149.26,653.05 137.88,649.2" fill="#e9f93c" stroke="#3a3a3a" stroke-width="0.55" stroke-opacity="0.55" stroke-linejoin="round"/>
<polygon points="157.21,763.38 163.49,757.54 163.49,675.43 157.21,681.27" fill="#e9f93c" stroke="#3a3a3a" stroke-width="0.55" stroke-opacity="0.55" stroke-linejoin="round"/>
<polygon points="145.83,759.54 157.21,763.38 157.21,681.27 145.83,677.42" fill="#e9f93c" stroke="#3a3a3a" stroke-width="0.55" stroke-opacity="0.55" stroke-linejoin="round"/>
<polygon points="145.83,677.42 157.21,681.27 163.49,675.43 152.11,671.58" fill="#e9f93c" stroke="#3a3a3a" stroke-width="0.55" stroke-opacity="0.55" stroke-linejoin="round"/>
<polygon points="171.44,768.19 177.72,762.35 177.72,681.86 171.44,687.7" fill="#e9f93c" stroke="#3a3a3a" stroke-width="0.55" stroke-opacity="0.55" stroke-linejoin="round"/>
<polygon points="160.06,764.35 171.44,768.19 171.44,687.7 160.06,683.85" fill="#e9f93c" stroke="#3a3a3a" stroke-width="0.55" stroke-opacity="0.55" stroke-linejoin="round"/>
<polygon points="160.06,683.85 171.44,687.7 177.72,681.86 166.34,678.01" fill="#e9f93c" stroke="#3a3a3a" stroke-width="0.55" stroke-opacity="0.55" stroke-linejoin="round"/>
<polygon points="185.67,773 191.95,767.16 191.95,675.36 185.67,681.19" fill="#e9f93c" stroke="#3a3a3a" stroke-width="0.55" stroke-opacity="0.55" stroke-linejoin="round"/>
<polygon points="174.29,769.16 185.67,773 185.67,681.19 174.29,677.35" fill="#e9f93c" stroke="#3a3a3a" stroke-width="0.55" stroke-opacity="0.55" stroke-linejoin="round"/>
<polygon points="174.29,677.35 185.67,681.19 191.95,675.36 180.57,671.51" fill="#e9f93c" stroke="#3a3a3a" stroke-width="0.55" stroke-opacity="0.55" stroke-linejoin="round"/>
<polygon points="199.9,777.81 206.18,771.97 206.18,684.61 199.9,690.45" fill="#e9f93c" stroke="#3a3a3a" stroke-width="0.55" stroke-opacity="0.55" stroke-linejoin="round"/>
<polygon points="188.52,773.97 199.9,777.81 199.9,690.45 188.52,686.6" fill="#e9f93c" stroke="#3a3a3a" stroke-width="0.55" stroke-opacity="0.55" stroke-linejoin="round"/>
<polygon points="188.52,686.6 199.9,690.45 206.18,684.61 194.8,680.76" fill="#e9f93c" stroke="#3a3a3a" stroke-width="0.55" stroke-opacity="0.55" stroke-linejoin="round"/>
<polygon points="214.13,782.62 220.41,776.78 220.41,692.04 214.13,697.88" fill="#e9f93c" stroke="#3a3a3a" stroke-width="0.55" stroke-opacity="0.55" stroke-linejoin="round"/>
<polygon points="202.75,778.78 214.13,782.62 214.13,697.88 202.75,694.04" fill="#e9f93c" stroke="#3a3a3a" stroke-width="0.55" stroke-opacity="0.55" stroke-linejoin="round"/>
<polygon points="202.75,694.04 214.13,697.88 220.41,692.04 209.03,688.2" fill="#e9f93c" stroke="#3a3a3a" stroke-width="0.55" stroke-opacity="0.55" stroke-linejoin="round"/>
<polygon points="228.36,787.43 234.64,781.59 234.64,690.59 228.36,696.43" fill="#e9f93c" stroke="#3a3a3a" stroke-width="0.55" stroke-opacity="0.55" stroke-linejoin="round"/>
<polygon points="216.98,783.59 228.36,787.43 228.36,696.43 216.98,692.58" fill="#e9f93c" stroke="#3a3a3a" stroke-width="0.55" stroke-opacity="0.55" stroke-linejoin="round"/>
<polygon points="216.98,692.58 228.36,696.43 234.64,690.59 223.26,686.75" fill="#e9f93c" stroke="#3a3a3a" stroke-width="0.55" stroke-opacity="0.55" stroke-linejoin="round"/>
<polygon points="242.59,792.24 248.87,786.4 248.87,710.25 242.59,716.09" fill="#e9f93c" stroke="#3a3a3a" stroke-width="0.55" stroke-opacity="0.55" stroke-linejoin="round"/>
<polygon points="231.21,788.4 242.59,792.24 242.59,716.09 231.21,712.24" fill="#e9f93c" stroke="#3a3a3a" stroke-width="0.55" stroke-opacity="0.55" stroke-linejoin="round"/>
<polygon points="231.21,712.24 242.59,716.09 248.87,710.25 237.49,706.4" fill="#e9f93c" stroke="#3a3a3a" stroke-width="0.55" stroke-opacity="0.55" stroke-linejoin="round"/>
<polygon points="256.82,797.05 263.1,791.21 263.1,714.76 256.82,720.6" fill="#e9f93c" stroke="#3a3a3a" stroke-width="0.55" stroke-opacity="0.55" stroke-linejoin="round"/>
<polygon points="245.44,793.21 256.82,797.05 256.82,720.6 245.44,716.75" fill="#e9f93c" stroke="#3a3a3a" stroke-width="0.55" stroke-opacity="0.55" stroke-linejoin="round"/>
<polygon points="245.44,716.75 256.82,720.6 263.1,714.76 251.72,710.91" fill="#e9f93c" stroke="#3a3a3a" stroke-width="0.55" stroke-opacity="0.55" stroke-linejoin="round"/>
<polygon points="271.05,801.86 277.33,796.02 277.33,725.83 271.05,731.67" fill="#e9f93c" stroke="#3a3a3a" stroke-width="0.55" stroke-opacity="0.55" stroke-linejoin="round"/>
<polygon points="259.67,798.02 271.05,801.86 271.05,731.67 259.67,727.82" fill="#e9f93c" stroke="#3a3a3a" stroke-width="0.55" stroke-opacity="0.55" stroke-linejoin="round"/>
<polygon points="259.67,727.82 271.05,731.67 277.33,725.83 265.95,721.98" fill="#e9f93c" stroke="#3a3a3a" stroke-width="0.55" stroke-opacity="0.55" stroke-linejoin="round"/>
<polygon points="285.28,806.67 291.56,800.83 291.56,741.24 285.28,747.08" fill="#e9f93c" stroke="#3a3a3a" stroke-width="0.55" stroke-opacity="0.55" stroke-linejoin="round"/>
<polygon points="273.9,802.83 285.28,806.67 285.28,747.08 273.9,743.24" fill="#e9f93c" stroke="#3a3a3a" stroke-width="0.55" stroke-opacity="0.55" stroke-linejoin="round"/>
<polygon points="273.9,743.24 285.28,747.08 291.56,741.24 280.18,737.4" fill="#e9f93c" stroke="#3a3a3a" stroke-width="0.55" stroke-opacity="0.55" stroke-linejoin="round"/>
<polygon points="299.51,811.48 305.79,805.64 305.79,733.73 299.51,739.57" fill="#e9f93c" stroke="#3a3a3a" stroke-width="0.55" stroke-opacity="0.55" stroke-linejoin="round"/>
<polygon points="288.13,807.64 299.51,811.48 299.51,739.57 288.13,735.72" fill="#e9f93c" stroke="#3a3a3a" stroke-width="0.55" stroke-opacity="0.55" stroke-linejoin="round"/>
<polygon points="288.13,735.72 299.51,739.57 305.79,733.73 294.41,729.88" fill="#e9f93c" stroke="#3a3a3a" stroke-width="0.55" stroke-opacity="0.55" stroke-linejoin="round"/>
<polygon points="92.44,751.44 98.72,745.6 98.72,638.14 92.44,643.98" fill="#dfbd45" stroke="#3a3a3a" stroke-width="0.55" stroke-opacity="0.55" stroke-linejoin="round"/>
<polygon points="81.06,747.6 92.44,751.44 92.44,643.98 81.06,640.13" fill="#dfbd45" stroke="#3a3a3a" stroke-width="0.55" stroke-opacity="0.55" stroke-linejoin="round"/>
<polygon points="81.06,640.13 92.44,643.98 98.72,638.14 87.34,634.29" fill="#dfbd45" stroke="#3a3a3a" stroke-width="0.55" stroke-opacity="0.55" stroke-linejoin="round"/>
<polygon points="106.67,756.25 112.95,750.41 112.95,641.13 106.67,646.97" fill="#dfbd45" stroke="#3a3a3a" stroke-width="0.55" stroke-opacity="0.55" stroke-linejoin="round"/>
<polygon points="95.29,752.41 106.67,756.25 106.67,646.97 95.29,643.12" fill="#dfbd45" stroke="#3a3a3a" stroke-width="0.55" stroke-opacity="0.55" stroke-linejoin="round"/>
<polygon points="95.29,643.12 106.67,646.97 112.95,641.13 101.57,637.28" fill="#dfbd45" stroke="#3a3a3a" stroke-width="0.55" stroke-opacity="0.55" stroke-linejoin="round"/>
<polygon points="120.9,761.06 127.18,755.22 127.18,659.27 120.9,665.11" fill="#dfbd45" stroke="#3a3a3a" stroke-width="0.55" stroke-opacity="0.55" stroke-linejoin="round"/>
<polygon points="109.52,757.22 120.9,761.06 120.9,665.11 109.52,661.27" fill="#dfbd45" stroke="#3a3a3a" stroke-width="0.55" stroke-opacity="0.55" stroke-linejoin="round"/>
<polygon points="109.52,661.27 120.9,665.11 127.18,659.27 115.8,655.43" fill="#dfbd45" stroke="#3a3a3a" stroke-width="0.55" stroke-opacity="0.55" stroke-linejoin="round"/>
<polygon points="135.13,765.87 141.41,760.03 141.41,658.12 135.13,663.97" fill="#dfbd45" stroke="#3a3a3a" stroke-width="0.55" stroke-opacity="0.55" stroke-linejoin="round"/>
<polygon points="123.75,762.03 135.13,765.87 135.13,663.97 123.75,660.12" fill="#dfbd45" stroke="#3a3a3a" stroke-width="0.55" stroke-opacity="0.55" stroke-linejoin="round"/>
<polygon points="123.75,660.12 135.13,663.97 141.41,658.12 130.03,654.28" fill="#dfbd45" stroke="#3a3a3a" stroke-width="0.55" stroke-opacity="0.55" stroke-linejoin="round"/>
<polygon points="149.36,770.68 155.64,764.84 155.64,689.09 149.36,694.93" fill="#dfbd45" stroke="#3a3a3a" stroke-width="0.55" stroke-opacity="0.55" stroke-linejoin="round"/>
<polygon points="137.98,766.84 149.36,770.68 149.36,694.93 137.98,691.09" fill="#dfbd45" stroke="#3a3a3a" stroke-width="0.55" stroke-opacity="0.55" stroke-linejoin="round"/>
<polygon points="137.98,691.09 149.36,694.93 155.64,689.09 144.26,685.25" fill="#dfbd45" stroke="#3a3a3a" stroke-width="0.55" stroke-opacity="0.55" stroke-linejoin="round"/>
<polygon points="163.59,775.49 169.87,769.65 169.87,684.01 163.59,689.85" fill="#dfbd45" stroke="#3a3a3a" stroke-width="0.55" stroke-opacity="0.55" stroke-linejoin="round"/>
<polygon points="152.21,771.65 163.59,775.49 163.59,689.85 152.21,686" fill="#dfbd45" stroke="#3a3a3a" stroke-width="0.55" stroke-opacity="0.55" stroke-linejoin="round"/>
<polygon points="152.21,686 163.59,689.85 169.87,684.01 158.49,680.16" fill="#dfbd45" stroke="#3a3a3a" stroke-width="0.55" stroke-opacity="0.55" stroke-linejoin="round"/>
<polygon points="177.82,780.3 184.1,774.46 184.1,690.63 177.82,696.47" fill="#dfbd45" stroke="#3a3a3a" stroke-width="0.55" stroke-opacity="0.55" stroke-linejoin="round"/>
<polygon points="166.44,776.46 177.82,780.3 177.82,696.47 166.44,692.63" fill="#dfbd45" stroke="#3a3a3a" stroke-width="0.55" stroke-opacity="0.55" stroke-linejoin="round"/>
<polygon points="166.44,692.63 177.82,696.47 184.1,690.63 172.72,686.79" fill="#dfbd45" stroke="#3a3a3a" stroke-width="0.55" stroke-opacity="0.55" stroke-linejoin="round"/>
<polygon points="192.05,785.11 198.33,779.27 198.33,693.12 192.05,698.96" fill="#dfbd45" stroke="#3a3a3a" stroke-width="0.55" stroke-opacity="0.55" stroke-linejoin="round"/>
<polygon points="180.67,781.27 192.05,785.11 192.05,698.96 180.67,695.11" fill="#dfbd45" stroke="#3a3a3a" stroke-width="0.55" stroke-opacity="0.55" stroke-linejoin="round"/>
<polygon points="180.67,695.11 192.05,698.96 198.33,693.12 186.95,689.27" fill="#dfbd45" stroke="#3a3a3a" stroke-width="0.55" stroke-opacity="0.55" stroke-linejoin="round"/>
<polygon points="206.28,789.92 212.56,784.08 212.56,695.51 206.28,701.35" fill="#dfbd45" stroke="#3a3a3a" stroke-width="0.55" stroke-opacity="0.55" stroke-linejoin="round"/>
<polygon points="194.9,786.08 206.28,789.92 206.28,701.35 194.9,697.5" fill="#dfbd45" stroke="#3a3a3a" stroke-width="0.55" stroke-opacity="0.55" stroke-linejoin="round"/>
<polygon points="194.9,697.5 206.28,701.35 212.56,695.51 201.18,691.66" fill="#dfbd45" stroke="#3a3a3a" stroke-width="0.55" stroke-opacity="0.55" stroke-linejoin="round"/>
<polygon points="220.51,794.73 226.79,788.89 226.79,707.49 220.51,713.33" fill="#dfbd45" stroke="#3a3a3a" stroke-width="0.55" stroke-opacity="0.55" stroke-linejoin="round"/>
<polygon points="209.13,790.89 220.51,794.73 220.51,713.33 209.13,709.48" fill="#dfbd45" stroke="#3a3a3a" stroke-width="0.55" stroke-opacity="0.55" stroke-linejoin="round"/>
<polygon points="209.13,709.48 220.51,713.33 226.79,707.49 215.41,703.64" fill="#dfbd45" stroke="#3a3a3a" stroke-width="0.55" stroke-opacity="0.55" stroke-linejoin="round"/>
<polygon points="234.74,799.54 241.02,793.7 241.02,721.59 234.74,727.43" fill="#dfbd45" stroke="#3a3a3a" stroke-width="0.55" stroke-opacity="0.55" stroke-linejoin="round"/>
<polygon points="223.36,795.7 234.74,799.54 234.74,727.43 223.36,723.58" fill="#dfbd45" stroke="#3a3a3a" stroke-width="0.55" stroke-opacity="0.55" stroke-linejoin="round"/>
<polygon points="223.36,723.58 234.74,727.43 241.02,721.59 229.64,717.74" fill="#dfbd45" stroke="#3a3a3a" stroke-width="0.55" stroke-opacity="0.55" stroke-linejoin="round"/>
<polygon points="248.97,804.35 255.25,798.51 255.25,729.33 248.97,735.17" fill="#dfbd45" stroke="#3a3a3a" stroke-width="0.55" stroke-opacity="0.55" stroke-linejoin="round"/>
<polygon points="237.59,800.51 248.97,804.35 248.97,735.17 237.59,731.32" fill="#dfbd45" stroke="#3a3a3a" stroke-width="0.55" stroke-opacity="0.55" stroke-linejoin="round"/>
<polygon points="237.59,731.32 248.97,735.17 255.25,729.33 243.87,725.48" fill="#dfbd45" stroke="#3a3a3a" stroke-width="0.55" stroke-opacity="0.55" stroke-linejoin="round"/>
<polygon points="263.2,809.16 269.48,803.32 269.48,742.72 263.2,748.56" fill="#dfbd45" stroke="#3a3a3a" stroke-width="0.55" stroke-opacity="0.55" stroke-linejoin="round"/>
<polygon points="251.82,805.32 263.2,809.16 263.2,748.56 251.82,744.72" fill="#dfbd45" stroke="#3a3a3a" stroke-width="0.55" stroke-opacity="0.55" stroke-linejoin="round"/>
<polygon points="251.82,744.72 263.2,748.56 269.48,742.72 258.1,738.88" fill="#dfbd45" stroke="#3a3a3a" stroke-width="0.55" stroke-opacity="0.55" stroke-linejoin="round"/>
<polygon points="277.43,813.97 283.71,808.13 283.71,733.6 277.43,739.44" fill="#dfbd45" stroke="#3a3a3a" stroke-width="0.55" stroke-opacity="0.55" stroke-linejoin="round"/>
<polygon points="266.05,810.13 277.43,813.97 277.43,739.44 266.05,735.59" fill="#dfbd45" stroke="#3a3a3a" stroke-width="0.55" stroke-opacity="0.55" stroke-linejoin="round"/>
<polygon points="266.05,735.59 277.43,739.44 283.71,733.6 272.33,729.75" fill="#dfbd45" stroke="#3a3a3a" stroke-width="0.55" stroke-opacity="0.55" stroke-linejoin="round"/>
<polygon points="291.66,818.78 297.94,812.94 297.94,751.03 291.66,756.87" fill="#dfbd45" stroke="#3a3a3a" stroke-width="0.55" stroke-opacity="0.55" stroke-linejoin="round"/>
<polygon points="280.28,814.94 291.66,818.78 291.66,756.87 280.28,753.02" fill="#dfbd45" stroke="#3a3a3a" stroke-width="0.55" stroke-opacity="0.55" stroke-linejoin="round"/>
<polygon points="280.28,753.02 291.66,756.87 297.94,751.03 286.56,747.18" fill="#dfbd45" stroke="#3a3a3a" stroke-width="0.55" stroke-opacity="0.55" stroke-linejoin="round"/>
<polygon points="84.59,758.74 90.87,752.9 90.87,657.96 84.59,663.8" fill="#56c0ee" stroke="#3a3a3a" stroke-width="0.55" stroke-opacity="0.55" stroke-linejoin="round"/>
<polygon points="73.21,754.9 84.59,758.74 84.59,663.8 73.21,659.96" fill="#56c0ee" stroke="#3a3a3a" stroke-width="0.55" stroke-opacity="0.55" stroke-linejoin="round"/>
<polygon points="73.21,659.96 84.59,663.8 90.87,657.96 79.49,654.12" fill="#56c0ee" stroke="#3a3a3a" stroke-width="0.55" stroke-opacity="0.55" stroke-linejoin="round"/>
<polygon points="98.82,763.55 105.1,757.71 105.1,657.72 98.82,663.56" fill="#56c0ee" stroke="#3a3a3a" stroke-width="0.55" stroke-opacity="0.55" stroke-linejoin="round"/>
<polygon points="87.44,759.71 98.82,763.55 98.82,663.56 87.44,659.72" fill="#56c0ee" stroke="#3a3a3a" stroke-width="0.55" stroke-opacity="0.55" stroke-linejoin="round"/>
<polygon points="87.44,659.72 98.82,663.56 105.1,657.72 93.72,653.88" fill="#56c0ee" stroke="#3a3a3a" stroke-width="0.55" stroke-opacity="0.55" stroke-linejoin="round"/>
<polygon points="113.05,768.36 119.33,762.52 119.33,651.42 113.05,657.26" fill="#56c0ee" stroke="#3a3a3a" stroke-width="0.55" stroke-opacity="0.55" stroke-linejoin="round"/>
<polygon points="101.67,764.52 113.05,768.36 113.05,657.26 101.67,653.42" fill="#56c0ee" stroke="#3a3a3a" stroke-width="0.55" stroke-opacity="0.55" stroke-linejoin="round"/>
<polygon points="101.67,653.42 113.05,657.26 119.33,651.42 107.95,647.58" fill="#56c0ee" stroke="#3a3a3a" stroke-width="0.55" stroke-opacity="0.55" stroke-linejoin="round"/>
<polygon points="127.28,773.17 133.56,767.33 133.56,671.38 127.28,677.22" fill="#56c0ee" stroke="#3a3a3a" stroke-width="0.55" stroke-opacity="0.55" stroke-linejoin="round"/>
<polygon points="115.9,769.33 127.28,773.17 127.28,677.22 115.9,673.38" fill="#56c0ee" stroke="#3a3a3a" stroke-width="0.55" stroke-opacity="0.55" stroke-linejoin="round"/>
<polygon points="115.9,673.38 127.28,677.22 133.56,671.38 122.18,667.54" fill="#56c0ee" stroke="#3a3a3a" stroke-width="0.55" stroke-opacity="0.55" stroke-linejoin="round"/>
<polygon points="141.51,777.98 147.79,772.14 147.79,699.12 141.51,704.96" fill="#56c0ee" stroke="#3a3a3a" stroke-width="0.55" stroke-opacity="0.55" stroke-linejoin="round"/>
<polygon points="130.13,774.14 141.51,777.98 141.51,704.96 130.13,701.11" fill="#56c0ee" stroke="#3a3a3a" stroke-width="0.55" stroke-opacity="0.55" stroke-linejoin="round"/>
<polygon points="130.13,701.11 141.51,704.96 147.79,699.12 136.41,695.27" fill="#56c0ee" stroke="#3a3a3a" stroke-width="0.55" stroke-opacity="0.55" stroke-linejoin="round"/>
<polygon points="155.74,782.79 162.02,776.95 162.02,689.08 155.74,694.92" fill="#56c0ee" stroke="#3a3a3a" stroke-width="0.55" stroke-opacity="0.55" stroke-linejoin="round"/>
<polygon points="144.36,778.95 155.74,782.79 155.74,694.92 144.36,691.08" fill="#56c0ee" stroke="#3a3a3a" stroke-width="0.55" stroke-opacity="0.55" stroke-linejoin="round"/>
<polygon points="144.36,691.08 155.74,694.92 162.02,689.08 150.64,685.24" fill="#56c0ee" stroke="#3a3a3a" stroke-width="0.55" stroke-opacity="0.55" stroke-linejoin="round"/>
<polygon points="169.97,787.6 176.25,781.76 176.25,708.03 169.97,713.87" fill="#56c0ee" stroke="#3a3a3a" stroke-width="0.55" stroke-opacity="0.55" stroke-linejoin="round"/>
<polygon points="158.59,783.76 169.97,787.6 169.97,713.87 158.59,710.03" fill="#56c0ee" stroke="#3a3a3a" stroke-width="0.55" stroke-opacity="0.55" stroke-linejoin="round"/>
<polygon points="158.59,710.03 169.97,713.87 176.25,708.03 164.87,704.19" fill="#56c0ee" stroke="#3a3a3a" stroke-width="0.55" stroke-opacity="0.55" stroke-linejoin="round"/>
<polygon points="184.2,792.41 190.48,786.57 190.48,712.84 184.2,718.68" fill="#56c0ee" stroke="#3a3a3a" stroke-width="0.55" stroke-opacity="0.55" stroke-linejoin="round"/>
<polygon points="172.82,788.57 184.2,792.41 184.2,718.68 172.82,714.84" fill="#56c0ee" stroke="#3a3a3a" stroke-width="0.55" stroke-opacity="0.55" stroke-linejoin="round"/>
<polygon points="172.82,714.84 184.2,718.68 190.48,712.84 179.1,709" fill="#56c0ee" stroke="#3a3a3a" stroke-width="0.55" stroke-opacity="0.55" stroke-linejoin="round"/>
<polygon points="198.43,797.22 204.71,791.38 204.71,711.8 198.43,717.64" fill="#56c0ee" stroke="#3a3a3a" stroke-width="0.55" stroke-opacity="0.55" stroke-linejoin="round"/>
<polygon points="187.05,793.38 198.43,797.22 198.43,717.64 187.05,713.79" fill="#56c0ee" stroke="#3a3a3a" stroke-width="0.55" stroke-opacity="0.55" stroke-linejoin="round"/>
<polygon points="187.05,713.79 198.43,717.64 204.71,711.8 193.33,707.95" fill="#56c0ee" stroke="#3a3a3a" stroke-width="0.55" stroke-opacity="0.55" stroke-linejoin="round"/>
<polygon points="212.66,802.03 218.94,796.19 218.94,711.35 212.66,717.19" fill="#56c0ee" stroke="#3a3a3a" stroke-width="0.55" stroke-opacity="0.55" stroke-linejoin="round"/>
<polygon points="201.28,798.19 212.66,802.03 212.66,717.19 201.28,713.35" fill="#56c0ee" stroke="#3a3a3a" stroke-width="0.55" stroke-opacity="0.55" stroke-linejoin="round"/>
<polygon points="201.28,713.35 212.66,717.19 218.94,711.35 207.56,707.51" fill="#56c0ee" stroke="#3a3a3a" stroke-width="0.55" stroke-opacity="0.55" stroke-linejoin="round"/>
<polygon points="226.89,806.84 233.17,801 233.17,735.35 226.89,741.19" fill="#56c0ee" stroke="#3a3a3a" stroke-width="0.55" stroke-opacity="0.55" stroke-linejoin="round"/>
<polygon points="215.51,803 226.89,806.84 226.89,741.19 215.51,737.35" fill="#56c0ee" stroke="#3a3a3a" stroke-width="0.55" stroke-opacity="0.55" stroke-linejoin="round"/>
<polygon points="215.51,737.35 226.89,741.19 233.17,735.35 221.79,731.51" fill="#56c0ee" stroke="#3a3a3a" stroke-width="0.55" stroke-opacity="0.55" stroke-linejoin="round"/>
<polygon points="241.12,811.65 247.4,805.81 247.4,731.68 241.12,737.52" fill="#56c0ee" stroke="#3a3a3a" stroke-width="0.55" stroke-opacity="0.55" stroke-linejoin="round"/>
<polygon points="229.74,807.81 241.12,811.65 241.12,737.52 229.74,733.67" fill="#56c0ee" stroke="#3a3a3a" stroke-width="0.55" stroke-opacity="0.55" stroke-linejoin="round"/>
<polygon points="229.74,733.67 241.12,737.52 247.4,731.68 236.02,727.83" fill="#56c0ee" stroke="#3a3a3a" stroke-width="0.55" stroke-opacity="0.55" stroke-linejoin="round"/>
<polygon points="255.35,816.46 261.63,810.62 261.63,734.27 255.35,740.11" fill="#56c0ee" stroke="#3a3a3a" stroke-width="0.55" stroke-opacity="0.55" stroke-linejoin="round"/>
<polygon points="243.97,812.62 255.35,816.46 255.35,740.11 243.97,736.26" fill="#56c0ee" stroke="#3a3a3a" stroke-width="0.55" stroke-opacity="0.55" stroke-linejoin="round"/>
<polygon points="243.97,736.26 255.35,740.11 261.63,734.27 250.25,730.42" fill="#56c0ee" stroke="#3a3a3a" stroke-width="0.55" stroke-opacity="0.55" stroke-linejoin="round"/>
<polygon points="269.58,821.27 275.86,815.43 275.86,752.81 269.58,758.65" fill="#56c0ee" stroke="#3a3a3a" stroke-width="0.55" stroke-opacity="0.55" stroke-linejoin="round"/>
<polygon points="258.2,817.43 269.58,821.27 269.58,758.65 258.2,754.81" fill="#56c0ee" stroke="#3a3a3a" stroke-width="0.55" stroke-opacity="0.55" stroke-linejoin="round"/>
<polygon points="258.2,754.81 269.58,758.65 275.86,752.81 264.48,748.97" fill="#56c0ee" stroke="#3a3a3a" stroke-width="0.55" stroke-opacity="0.55" stroke-linejoin="round"/>
<polygon points="283.81,826.08 290.09,820.24 290.09,753.58 283.81,759.42" fill="#56c0ee" stroke="#3a3a3a" stroke-width="0.55" stroke-opacity="0.55" stroke-linejoin="round"/>
<polygon points="272.43,822.24 283.81,826.08 283.81,759.42 272.43,755.58" fill="#56c0ee" stroke="#3a3a3a" stroke-width="0.55" stroke-opacity="0.55" stroke-linejoin="round"/>
<polygon points="272.43,755.58 283.81,759.42 290.09,753.58 278.71,749.74" fill="#56c0ee" stroke="#3a3a3a" stroke-width="0.55" stroke-opacity="0.55" stroke-linejoin="round"/>
<polygon points="76.74,766.04 83.02,760.2 83.02,650.11 76.74,655.95" fill="#4765f7" stroke="#3a3a3a" stroke-width="0.55" stroke-opacity="0.55" stroke-linejoin="round"/>
<polygon points="65.36,762.2 76.74,766.04 76.74,655.95 65.36,652.11" fill="#4765f7" stroke="#3a3a3a" stroke-width="0.55" stroke-opacity="0.55" stroke-linejoin="round"/>
<polygon points="65.36,652.11 76.74,655.95 83.02,650.11 71.64,646.27" fill="#4765f7" stroke="#3a3a3a" stroke-width="0.55" stroke-opacity="0.55" stroke-linejoin="round"/>
<polygon points="90.97,770.85 97.25,765.01 97.25,660.98 90.97,666.82" fill="#4765f7" stroke="#3a3a3a" stroke-width="0.55" stroke-opacity="0.55" stroke-linejoin="round"/>
<polygon points="79.59,767.01 90.97,770.85 90.97,666.82 79.59,662.98" fill="#4765f7" stroke="#3a3a3a" stroke-width="0.55" stroke-opacity="0.55" stroke-linejoin="round"/>
<polygon points="79.59,662.98 90.97,666.82 97.25,660.98 85.87,657.14" fill="#4765f7" stroke="#3a3a3a" stroke-width="0.55" stroke-opacity="0.55" stroke-linejoin="round"/>
<polygon points="105.2,775.66 111.48,769.82 111.48,662.76 105.2,668.6" fill="#4765f7" stroke="#3a3a3a" stroke-width="0.55" stroke-opacity="0.55" stroke-linejoin="round"/>
<polygon points="93.82,771.82 105.2,775.66 105.2,668.6 93.82,664.76" fill="#4765f7" stroke="#3a3a3a" stroke-width="0.55" stroke-opacity="0.55" stroke-linejoin="round"/>
<polygon points="93.82,664.76 105.2,668.6 111.48,662.76 100.1,658.92" fill="#4765f7" stroke="#3a3a3a" stroke-width="0.55" stroke-opacity="0.55" stroke-linejoin="round"/>
<polygon points="119.43,780.47 125.71,774.63 125.71,674.64 119.43,680.48" fill="#4765f7" stroke="#3a3a3a" stroke-width="0.55" stroke-opacity="0.55" stroke-linejoin="round"/>
<polygon points="108.05,776.63 119.43,780.47 119.43,680.48 108.05,676.64" fill="#4765f7" stroke="#3a3a3a" stroke-width="0.55" stroke-opacity="0.55" stroke-linejoin="round"/>
<polygon points="108.05,676.64 119.43,680.48 125.71,674.64 114.33,670.8" fill="#4765f7" stroke="#3a3a3a" stroke-width="0.55" stroke-opacity="0.55" stroke-linejoin="round"/>
<polygon points="133.66,785.28 139.94,779.44 139.94,698.04 133.66,703.88" fill="#4765f7" stroke="#3a3a3a" stroke-width="0.55" stroke-opacity="0.55" stroke-linejoin="round"/>
<polygon points="122.28,781.44 133.66,785.28 133.66,703.88 122.28,700.03" fill="#4765f7" stroke="#3a3a3a" stroke-width="0.55" stroke-opacity="0.55" stroke-linejoin="round"/>
<polygon points="122.28,700.03 133.66,703.88 139.94,698.04 128.56,694.19" fill="#4765f7" stroke="#3a3a3a" stroke-width="0.55" stroke-opacity="0.55" stroke-linejoin="round"/>
<polygon points="147.89,790.09 154.17,784.25 154.17,704.77 147.89,710.61" fill="#4765f7" stroke="#3a3a3a" stroke-width="0.55" stroke-opacity="0.55" stroke-linejoin="round"/>
<polygon points="136.51,786.25 147.89,790.09 147.89,710.61 136.51,706.76" fill="#4765f7" stroke="#3a3a3a" stroke-width="0.55" stroke-opacity="0.55" stroke-linejoin="round"/>
<polygon points="136.51,706.76 147.89,710.61 154.17,704.77 142.79,700.92" fill="#4765f7" stroke="#3a3a3a" stroke-width="0.55" stroke-opacity="0.55" stroke-linejoin="round"/>
<polygon points="162.12,794.9 168.4,789.06 168.4,711.39 162.12,717.24" fill="#4765f7" stroke="#3a3a3a" stroke-width="0.55" stroke-opacity="0.55" stroke-linejoin="round"/>
<polygon points="150.74,791.06 162.12,794.9 162.12,717.24 150.74,713.39" fill="#4765f7" stroke="#3a3a3a" stroke-width="0.55" stroke-opacity="0.55" stroke-linejoin="round"/>
<polygon points="150.74,713.39 162.12,717.24 168.4,711.39 157.02,707.55" fill="#4765f7" stroke="#3a3a3a" stroke-width="0.55" stroke-opacity="0.55" stroke-linejoin="round"/>
<polygon points="176.35,799.71 182.63,793.87 182.63,704.39 176.35,710.23" fill="#4765f7" stroke="#3a3a3a" stroke-width="0.55" stroke-opacity="0.55" stroke-linejoin="round"/>
<polygon points="164.97,795.87 176.35,799.71 176.35,710.23 164.97,706.38" fill="#4765f7" stroke="#3a3a3a" stroke-width="0.55" stroke-opacity="0.55" stroke-linejoin="round"/>
<polygon points="164.97,706.38 176.35,710.23 182.63,704.39 171.25,700.54" fill="#4765f7" stroke="#3a3a3a" stroke-width="0.55" stroke-opacity="0.55" stroke-linejoin="round"/>
<polygon points="190.58,804.52 196.86,798.68 196.86,720.21 190.58,726.05" fill="#4765f7" stroke="#3a3a3a" stroke-width="0.55" stroke-opacity="0.55" stroke-linejoin="round"/>
<polygon points="179.2,800.68 190.58,804.52 190.58,726.05 179.2,722.2" fill="#4765f7" stroke="#3a3a3a" stroke-width="0.55" stroke-opacity="0.55" stroke-linejoin="round"/>
<polygon points="179.2,722.2 190.58,726.05 196.86,720.21 185.48,716.36" fill="#4765f7" stroke="#3a3a3a" stroke-width="0.55" stroke-opacity="0.55" stroke-linejoin="round"/>
<polygon points="204.81,809.33 211.09,803.49 211.09,727.44 204.81,733.28" fill="#4765f7" stroke="#3a3a3a" stroke-width="0.55" stroke-opacity="0.55" stroke-linejoin="round"/>
<polygon points="193.43,805.49 204.81,809.33 204.81,733.28 193.43,729.43" fill="#4765f7" stroke="#3a3a3a" stroke-width="0.55" stroke-opacity="0.55" stroke-linejoin="round"/>
<polygon points="193.43,729.43 204.81,733.28 211.09,727.44 199.71,723.59" fill="#4765f7" stroke="#3a3a3a" stroke-width="0.55" stroke-opacity="0.55" stroke-linejoin="round"/>
<polygon points="219.04,814.14 225.32,808.3 225.32,748.41 219.04,754.25" fill="#4765f7" stroke="#3a3a3a" stroke-width="0.55" stroke-opacity="0.55" stroke-linejoin="round"/>
<polygon points="207.66,810.3 219.04,814.14 219.04,754.25 207.66,750.4" fill="#4765f7" stroke="#3a3a3a" stroke-width="0.55" stroke-opacity="0.55" stroke-linejoin="round"/>
<polygon points="207.66,750.4 219.04,754.25 225.32,748.41 213.94,744.56" fill="#4765f7" stroke="#3a3a3a" stroke-width="0.55" stroke-opacity="0.55" stroke-linejoin="round"/>
<polygon points="233.27,818.95 239.55,813.11 239.55,740.39 233.27,746.23" fill="#4765f7" stroke="#3a3a3a" stroke-width="0.55" stroke-opacity="0.55" stroke-linejoin="round"/>
<polygon points="221.89,815.11 233.27,818.95 233.27,746.23 221.89,742.39" fill="#4765f7" stroke="#3a3a3a" stroke-width="0.55" stroke-opacity="0.55" stroke-linejoin="round"/>
<polygon points="221.89,742.39 233.27,746.23 239.55,740.39 228.17,736.55" fill="#4765f7" stroke="#3a3a3a" stroke-width="0.55" stroke-opacity="0.55" stroke-linejoin="round"/>
<polygon points="247.5,823.76 253.78,817.92 253.78,757.32 247.5,763.16" fill="#4765f7" stroke="#3a3a3a" stroke-width="0.55" stroke-opacity="0.55" stroke-linejoin="round"/>
<polygon points="236.12,819.92 247.5,823.76 247.5,763.16 236.12,759.32" fill="#4765f7" stroke="#3a3a3a" stroke-width="0.55" stroke-opacity="0.55" stroke-linejoin="round"/>
<polygon points="236.12,759.32 247.5,763.16 253.78,757.32 242.4,753.48" fill="#4765f7" stroke="#3a3a3a" stroke-width="0.55" stroke-opacity="0.55" stroke-linejoin="round"/>
<polygon points="261.73,828.57 268.01,822.73 268.01,756.07 261.73,761.91" fill="#4765f7" stroke="#3a3a3a" stroke-width="0.55" stroke-opacity="0.55" stroke-linejoin="round"/>
<polygon points="250.35,824.73 261.73,828.57 261.73,761.91 250.35,758.07" fill="#4765f7" stroke="#3a3a3a" stroke-width="0.55" stroke-opacity="0.55" stroke-linejoin="round"/>
<polygon points="250.35,758.07 261.73,761.91 268.01,756.07 256.63,752.23" fill="#4765f7" stroke="#3a3a3a" stroke-width="0.55" stroke-opacity="0.55" stroke-linejoin="round"/>
<polygon points="275.96,833.38 282.24,827.54 282.24,760.68 275.96,766.52" fill="#4765f7" stroke="#3a3a3a" stroke-width="0.55" stroke-opacity="0.55" stroke-linejoin="round"/>
<polygon points="264.58,829.54 275.96,833.38 275.96,766.52 264.58,762.67" fill="#4765f7" stroke="#3a3a3a" stroke-width="0.55" stroke-opacity="0.55" stroke-linejoin="round"/>
<polygon points="264.58,762.67 275.96,766.52 282.24,760.68 270.86,756.83" fill="#4765f7" stroke="#3a3a3a" stroke-width="0.55" stroke-opacity="0.55" stroke-linejoin="round"/>
<polygon points="68.89,773.34 75.17,767.5 75.17,672.56 68.89,678.4" fill="#f7f7f5" stroke="#3a3a3a" stroke-width="0.55" stroke-opacity="0.55" stroke-linejoin="round"/>
<polygon points="57.51,769.5 68.89,773.34 68.89,678.4 57.51,674.56" fill="#f7f7f5" stroke="#3a3a3a" stroke-width="0.55" stroke-opacity="0.55" stroke-linejoin="round"/>
<polygon points="57.51,674.56 68.89,678.4 75.17,672.56 63.79,668.72" fill="#f7f7f5" stroke="#3a3a3a" stroke-width="0.55" stroke-opacity="0.55" stroke-linejoin="round"/>
<polygon points="83.12,778.15 89.4,772.31 89.4,665.25 83.12,671.09" fill="#f7f7f5" stroke="#3a3a3a" stroke-width="0.55" stroke-opacity="0.55" stroke-linejoin="round"/>
<polygon points="71.74,774.31 83.12,778.15 83.12,671.09 71.74,667.25" fill="#f7f7f5" stroke="#3a3a3a" stroke-width="0.55" stroke-opacity="0.55" stroke-linejoin="round"/>
<polygon points="71.74,667.25 83.12,671.09 89.4,665.25 78.02,661.41" fill="#f7f7f5" stroke="#3a3a3a" stroke-width="0.55" stroke-opacity="0.55" stroke-linejoin="round"/>
<polygon points="97.35,782.96 103.63,777.12 103.63,675.11 97.35,680.95" fill="#f7f7f5" stroke="#3a3a3a" stroke-width="0.55" stroke-opacity="0.55" stroke-linejoin="round"/>
<polygon points="85.97,779.12 97.35,782.96 97.35,680.95 85.97,677.11" fill="#f7f7f5" stroke="#3a3a3a" stroke-width="0.55" stroke-opacity="0.55" stroke-linejoin="round"/>
<polygon points="85.97,677.11 97.35,680.95 103.63,675.11 92.25,671.27" fill="#f7f7f5" stroke="#3a3a3a" stroke-width="0.55" stroke-opacity="0.55" stroke-linejoin="round"/>
<polygon points="111.58,787.77 117.86,781.93 117.86,684.47 111.58,690.31" fill="#f7f7f5" stroke="#3a3a3a" stroke-width="0.55" stroke-opacity="0.55" stroke-linejoin="round"/>
<polygon points="100.2,783.93 111.58,787.77 111.58,690.31 100.2,686.46" fill="#f7f7f5" stroke="#3a3a3a" stroke-width="0.55" stroke-opacity="0.55" stroke-linejoin="round"/>
<polygon points="100.2,686.46 111.58,690.31 117.86,684.47 106.48,680.62" fill="#f7f7f5" stroke="#3a3a3a" stroke-width="0.55" stroke-opacity="0.55" stroke-linejoin="round"/>
<polygon points="125.81,792.58 132.09,786.74 132.09,702.71 125.81,708.55" fill="#f7f7f5" stroke="#3a3a3a" stroke-width="0.55" stroke-opacity="0.55" stroke-linejoin="round"/>
<polygon points="114.43,788.74 125.81,792.58 125.81,708.55 114.43,704.7" fill="#f7f7f5" stroke="#3a3a3a" stroke-width="0.55" stroke-opacity="0.55" stroke-linejoin="round"/>
<polygon points="114.43,704.7 125.81,708.55 132.09,702.71 120.71,698.86" fill="#f7f7f5" stroke="#3a3a3a" stroke-width="0.55" stroke-opacity="0.55" stroke-linejoin="round"/>
<polygon points="140.04,797.39 146.32,791.55 146.32,707.93 140.04,713.77" fill="#f7f7f5" stroke="#3a3a3a" stroke-width="0.55" stroke-opacity="0.55" stroke-linejoin="round"/>
<polygon points="128.66,793.55 140.04,797.39 140.04,713.77 128.66,709.92" fill="#f7f7f5" stroke="#3a3a3a" stroke-width="0.55" stroke-opacity="0.55" stroke-linejoin="round"/>
<polygon points="128.66,709.92 140.04,713.77 146.32,707.93 134.94,704.08" fill="#f7f7f5" stroke="#3a3a3a" stroke-width="0.55" stroke-opacity="0.55" stroke-linejoin="round"/>
<polygon points="154.27,802.2 160.55,796.36 160.55,722.03 154.27,727.87" fill="#f7f7f5" stroke="#3a3a3a" stroke-width="0.55" stroke-opacity="0.55" stroke-linejoin="round"/>
<polygon points="142.89,798.36 154.27,802.2 154.27,727.87 142.89,724.02" fill="#f7f7f5" stroke="#3a3a3a" stroke-width="0.55" stroke-opacity="0.55" stroke-linejoin="round"/>
<polygon points="142.89,724.02 154.27,727.87 160.55,722.03 149.17,718.18" fill="#f7f7f5" stroke="#3a3a3a" stroke-width="0.55" stroke-opacity="0.55" stroke-linejoin="round"/>
<polygon points="168.5,807.01 174.78,801.17 174.78,727.44 168.5,733.28" fill="#f7f7f5" stroke="#3a3a3a" stroke-width="0.55" stroke-opacity="0.55" stroke-linejoin="round"/>
<polygon points="157.12,803.17 168.5,807.01 168.5,733.28 157.12,729.44" fill="#f7f7f5" stroke="#3a3a3a" stroke-width="0.55" stroke-opacity="0.55" stroke-linejoin="round"/>
<polygon points="157.12,729.44 168.5,733.28 174.78,727.44 163.4,723.6" fill="#f7f7f5" stroke="#3a3a3a" stroke-width="0.55" stroke-opacity="0.55" stroke-linejoin="round"/>
<polygon points="182.73,811.82 189.01,805.98 189.01,729.22 182.73,735.06" fill="#f7f7f5" stroke="#3a3a3a" stroke-width="0.55" stroke-opacity="0.55" stroke-linejoin="round"/>
<polygon points="171.35,807.98 182.73,811.82 182.73,735.06 171.35,731.22" fill="#f7f7f5" stroke="#3a3a3a" stroke-width="0.55" stroke-opacity="0.55" stroke-linejoin="round"/>
<polygon points="171.35,731.22 182.73,735.06 189.01,729.22 177.63,725.38" fill="#f7f7f5" stroke="#3a3a3a" stroke-width="0.55" stroke-opacity="0.55" stroke-linejoin="round"/>
<polygon points="196.96,816.63 203.24,810.79 203.24,730.5 196.96,736.34" fill="#f7f7f5" stroke="#3a3a3a" stroke-width="0.55" stroke-opacity="0.55" stroke-linejoin="round"/>
<polygon points="185.58,812.79 196.96,816.63 196.96,736.34 185.58,732.49" fill="#f7f7f5" stroke="#3a3a3a" stroke-width="0.55" stroke-opacity="0.55" stroke-linejoin="round"/>
<polygon points="185.58,732.49 196.96,736.34 203.24,730.5 191.86,726.65" fill="#f7f7f5" stroke="#3a3a3a" stroke-width="0.55" stroke-opacity="0.55" stroke-linejoin="round"/>
<polygon points="211.19,821.44 217.47,815.6 217.47,755 211.19,760.84" fill="#f7f7f5" stroke="#3a3a3a" stroke-width="0.55" stroke-opacity="0.55" stroke-linejoin="round"/>
<polygon points="199.81,817.6 211.19,821.44 211.19,760.84 199.81,757" fill="#f7f7f5" stroke="#3a3a3a" stroke-width="0.55" stroke-opacity="0.55" stroke-linejoin="round"/>
<polygon points="199.81,757 211.19,760.84 217.47,755 206.09,751.16" fill="#f7f7f5" stroke="#3a3a3a" stroke-width="0.55" stroke-opacity="0.55" stroke-linejoin="round"/>
<polygon points="225.42,826.25 231.7,820.41 231.7,762.84 225.42,768.68" fill="#f7f7f5" stroke="#3a3a3a" stroke-width="0.55" stroke-opacity="0.55" stroke-linejoin="round"/>
<polygon points="214.04,822.41 225.42,826.25 225.42,768.68 214.04,764.84" fill="#f7f7f5" stroke="#3a3a3a" stroke-width="0.55" stroke-opacity="0.55" stroke-linejoin="round"/>
<polygon points="214.04,764.84 225.42,768.68 231.7,762.84 220.32,759" fill="#f7f7f5" stroke="#3a3a3a" stroke-width="0.55" stroke-opacity="0.55" stroke-linejoin="round"/>
<polygon points="239.65,831.06 245.93,825.22 245.93,766.95 239.65,772.79" fill="#f7f7f5" stroke="#3a3a3a" stroke-width="0.55" stroke-opacity="0.55" stroke-linejoin="round"/>
<polygon points="228.27,827.22 239.65,831.06 239.65,772.79 228.27,768.94" fill="#f7f7f5" stroke="#3a3a3a" stroke-width="0.55" stroke-opacity="0.55" stroke-linejoin="round"/>
<polygon points="228.27,768.94 239.65,772.79 245.93,766.95 234.55,763.1" fill="#f7f7f5" stroke="#3a3a3a" stroke-width="0.55" stroke-opacity="0.55" stroke-linejoin="round"/>
<polygon points="253.88,835.87 260.16,830.03 260.16,765.39 253.88,771.23" fill="#f7f7f5" stroke="#3a3a3a" stroke-width="0.55" stroke-opacity="0.55" stroke-linejoin="round"/>
<polygon points="242.5,832.03 253.88,835.87 253.88,771.23 242.5,767.39" fill="#f7f7f5" stroke="#3a3a3a" stroke-width="0.55" stroke-opacity="0.55" stroke-linejoin="round"/>
<polygon points="242.5,767.39 253.88,771.23 260.16,765.39 248.78,761.55" fill="#f7f7f5" stroke="#3a3a3a" stroke-width="0.55" stroke-opacity="0.55" stroke-linejoin="round"/>
<polygon points="268.11,840.68 274.39,834.84 274.39,769.7 268.11,775.54" fill="#f7f7f5" stroke="#3a3a3a" stroke-width="0.55" stroke-opacity="0.55" stroke-linejoin="round"/>
<polygon points="256.73,836.84 268.11,840.68 268.11,775.54 256.73,771.69" fill="#f7f7f5" stroke="#3a3a3a" stroke-width="0.55" stroke-opacity="0.55" stroke-linejoin="round"/>
<polygon points="256.73,771.69 268.11,775.54 274.39,769.7 263.01,765.85" fill="#f7f7f5" stroke="#3a3a3a" stroke-width="0.55" stroke-opacity="0.55" stroke-linejoin="round"/>
<polygon points="61.04,780.64 67.32,774.8 67.32,666.63 61.04,672.47" fill="#f29298" stroke="#3a3a3a" stroke-width="0.55" stroke-opacity="0.55" stroke-linejoin="round"/>
<polygon points="49.66,776.8 61.04,780.64 61.04,672.47 49.66,668.62" fill="#f29298" stroke="#3a3a3a" stroke-width="0.55" stroke-opacity="0.55" stroke-linejoin="round"/>
<polygon points="49.66,668.62 61.04,672.47 67.32,666.63 55.94,662.78" fill="#f29298" stroke="#3a3a3a" stroke-width="0.55" stroke-opacity="0.55" stroke-linejoin="round"/>
<polygon points="75.27,785.45 81.55,779.61 81.55,671.75 75.27,677.59" fill="#f29298" stroke="#3a3a3a" stroke-width="0.55" stroke-opacity="0.55" stroke-linejoin="round"/>
<polygon points="63.89,781.61 75.27,785.45 75.27,677.59 63.89,673.74" fill="#f29298" stroke="#3a3a3a" stroke-width="0.55" stroke-opacity="0.55" stroke-linejoin="round"/>
<polygon points="63.89,673.74 75.27,677.59 81.55,671.75 70.17,667.9" fill="#f29298" stroke="#3a3a3a" stroke-width="0.55" stroke-opacity="0.55" stroke-linejoin="round"/>
<polygon points="89.5,790.26 95.78,784.42 95.78,675.65 89.5,681.49" fill="#f29298" stroke="#3a3a3a" stroke-width="0.55" stroke-opacity="0.55" stroke-linejoin="round"/>
<polygon points="78.12,786.42 89.5,790.26 89.5,681.49 78.12,677.64" fill="#f29298" stroke="#3a3a3a" stroke-width="0.55" stroke-opacity="0.55" stroke-linejoin="round"/>
<polygon points="78.12,677.64 89.5,681.49 95.78,675.65 84.4,671.8" fill="#f29298" stroke="#3a3a3a" stroke-width="0.55" stroke-opacity="0.55" stroke-linejoin="round"/>
<polygon points="103.73,795.07 110.01,789.23 110.01,692.88 103.73,698.72" fill="#f29298" stroke="#3a3a3a" stroke-width="0.55" stroke-opacity="0.55" stroke-linejoin="round"/>
<polygon points="92.35,791.23 103.73,795.07 103.73,698.72 92.35,694.87" fill="#f29298" stroke="#3a3a3a" stroke-width="0.55" stroke-opacity="0.55" stroke-linejoin="round"/>
<polygon points="92.35,694.87 103.73,698.72 110.01,692.88 98.63,689.03" fill="#f29298" stroke="#3a3a3a" stroke-width="0.55" stroke-opacity="0.55" stroke-linejoin="round"/>
<polygon points="117.96,799.88 124.24,794.04 124.24,712.64 117.96,718.48" fill="#f29298" stroke="#3a3a3a" stroke-width="0.55" stroke-opacity="0.55" stroke-linejoin="round"/>
<polygon points="106.58,796.04 117.96,799.88 117.96,718.48 106.58,714.63" fill="#f29298" stroke="#3a3a3a" stroke-width="0.55" stroke-opacity="0.55" stroke-linejoin="round"/>
<polygon points="106.58,714.63 117.96,718.48 124.24,712.64 112.86,708.79" fill="#f29298" stroke="#3a3a3a" stroke-width="0.55" stroke-opacity="0.55" stroke-linejoin="round"/>
<polygon points="132.19,804.69 138.47,798.85 138.47,710.68 132.19,716.52" fill="#f29298" stroke="#3a3a3a" stroke-width="0.55" stroke-opacity="0.55" stroke-linejoin="round"/>
<polygon points="120.81,800.85 132.19,804.69 132.19,716.52 120.81,712.67" fill="#f29298" stroke="#3a3a3a" stroke-width="0.55" stroke-opacity="0.55" stroke-linejoin="round"/>
<polygon points="120.81,712.67 132.19,716.52 138.47,710.68 127.09,706.83" fill="#f29298" stroke="#3a3a3a" stroke-width="0.55" stroke-opacity="0.55" stroke-linejoin="round"/>
<polygon points="146.42,809.5 152.7,803.66 152.7,726.9 146.42,732.74" fill="#f29298" stroke="#3a3a3a" stroke-width="0.55" stroke-opacity="0.55" stroke-linejoin="round"/>
<polygon points="135.04,805.66 146.42,809.5 146.42,732.74 135.04,728.9" fill="#f29298" stroke="#3a3a3a" stroke-width="0.55" stroke-opacity="0.55" stroke-linejoin="round"/>
<polygon points="135.04,728.9 146.42,732.74 152.7,726.9 141.32,723.06" fill="#f29298" stroke="#3a3a3a" stroke-width="0.55" stroke-opacity="0.55" stroke-linejoin="round"/>
<polygon points="160.65,814.31 166.93,808.47 166.93,724.95 160.65,730.79" fill="#f29298" stroke="#3a3a3a" stroke-width="0.55" stroke-opacity="0.55" stroke-linejoin="round"/>
<polygon points="149.27,810.47 160.65,814.31 160.65,730.79 149.27,726.94" fill="#f29298" stroke="#3a3a3a" stroke-width="0.55" stroke-opacity="0.55" stroke-linejoin="round"/>
<polygon points="149.27,726.94 160.65,730.79 166.93,724.95 155.55,721.1" fill="#f29298" stroke="#3a3a3a" stroke-width="0.55" stroke-opacity="0.55" stroke-linejoin="round"/>
<polygon points="174.88,819.12 181.16,813.28 181.16,723.39 174.88,729.23" fill="#f29298" stroke="#3a3a3a" stroke-width="0.55" stroke-opacity="0.55" stroke-linejoin="round"/>
<polygon points="163.5,815.28 174.88,819.12 174.88,729.23 163.5,725.39" fill="#f29298" stroke="#3a3a3a" stroke-width="0.55" stroke-opacity="0.55" stroke-linejoin="round"/>
<polygon points="163.5,725.39 174.88,729.23 181.16,723.39 169.78,719.55" fill="#f29298" stroke="#3a3a3a" stroke-width="0.55" stroke-opacity="0.55" stroke-linejoin="round"/>
<polygon points="189.11,823.93 195.39,818.09 195.39,735.58 189.11,741.42" fill="#f29298" stroke="#3a3a3a" stroke-width="0.55" stroke-opacity="0.55" stroke-linejoin="round"/>
<polygon points="177.73,820.09 189.11,823.93 189.11,741.42 177.73,737.57" fill="#f29298" stroke="#3a3a3a" stroke-width="0.55" stroke-opacity="0.55" stroke-linejoin="round"/>
<polygon points="177.73,737.57 189.11,741.42 195.39,735.58 184.01,731.73" fill="#f29298" stroke="#3a3a3a" stroke-width="0.55" stroke-opacity="0.55" stroke-linejoin="round"/>
<polygon points="203.34,828.74 209.62,822.9 209.62,753.72 203.34,759.56" fill="#f29298" stroke="#3a3a3a" stroke-width="0.55" stroke-opacity="0.55" stroke-linejoin="round"/>
<polygon points="191.96,824.9 203.34,828.74 203.34,759.56 191.96,755.71" fill="#f29298" stroke="#3a3a3a" stroke-width="0.55" stroke-opacity="0.55" stroke-linejoin="round"/>
<polygon points="191.96,755.71 203.34,759.56 209.62,753.72 198.24,749.87" fill="#f29298" stroke="#3a3a3a" stroke-width="0.55" stroke-opacity="0.55" stroke-linejoin="round"/>
<polygon points="217.57,833.55 223.85,827.71 223.85,757.22 217.57,763.06" fill="#f29298" stroke="#3a3a3a" stroke-width="0.55" stroke-opacity="0.55" stroke-linejoin="round"/>
<polygon points="206.19,829.71 217.57,833.55 217.57,763.06 206.19,759.21" fill="#f29298" stroke="#3a3a3a" stroke-width="0.55" stroke-opacity="0.55" stroke-linejoin="round"/>
<polygon points="206.19,759.21 217.57,763.06 223.85,757.22 212.47,753.37" fill="#f29298" stroke="#3a3a3a" stroke-width="0.55" stroke-opacity="0.55" stroke-linejoin="round"/>
<polygon points="231.8,838.36 238.08,832.52 238.08,770.11 231.8,775.95" fill="#f29298" stroke="#3a3a3a" stroke-width="0.55" stroke-opacity="0.55" stroke-linejoin="round"/>
<polygon points="220.42,834.52 231.8,838.36 231.8,775.95 220.42,772.1" fill="#f29298" stroke="#3a3a3a" stroke-width="0.55" stroke-opacity="0.55" stroke-linejoin="round"/>
<polygon points="220.42,772.1 231.8,775.95 238.08,770.11 226.7,766.26" fill="#f29298" stroke="#3a3a3a" stroke-width="0.55" stroke-opacity="0.55" stroke-linejoin="round"/>
<polygon points="246.03,843.17 252.31,837.33 252.31,770.27 246.03,776.11" fill="#f29298" stroke="#3a3a3a" stroke-width="0.55" stroke-opacity="0.55" stroke-linejoin="round"/>
<polygon points="234.65,839.33 246.03,843.17 246.03,776.11 234.65,772.26" fill="#f29298" stroke="#3a3a3a" stroke-width="0.55" stroke-opacity="0.55" stroke-linejoin="round"/>
<polygon points="234.65,772.26 246.03,776.11 252.31,770.27 240.93,766.42" fill="#f29298" stroke="#3a3a3a" stroke-width="0.55" stroke-opacity="0.55" stroke-linejoin="round"/>
<polygon points="260.26,847.98 266.54,842.14 266.54,770.03 260.26,775.87" fill="#f29298" stroke="#3a3a3a" stroke-width="0.55" stroke-opacity="0.55" stroke-linejoin="round"/>
<polygon points="248.88,844.14 260.26,847.98 260.26,775.87 248.88,772.02" fill="#f29298" stroke="#3a3a3a" stroke-width="0.55" stroke-opacity="0.55" stroke-linejoin="round"/>
<polygon points="248.88,772.02 260.26,775.87 266.54,770.03 255.16,766.18" fill="#f29298" stroke="#3a3a3a" stroke-width="0.55" stroke-opacity="0.55" stroke-linejoin="round"/>
<line x1="41.5" y1="774.2" x2="41.5" y2="665" stroke="#a6a6a6" stroke-width="1"/>
<line x1="41.5" y1="774.2" x2="36" y2="773" stroke="#9a9a9a" stroke-width="0.8"/>
<text x="33" y="778.4" font-size="14.2" text-anchor="end" fill="#000">0</text>
<line x1="41.5" y1="723.7" x2="36" y2="722.5" stroke="#9a9a9a" stroke-width="0.8"/>
<text x="33" y="727.9" font-size="14.2" text-anchor="end" fill="#000">5</text>
<line x1="41.5" y1="673.2" x2="36" y2="672" stroke="#9a9a9a" stroke-width="0.8"/>
<text x="33" y="677.4" font-size="14.2" text-anchor="end" fill="#000">10</text>
<line x1="41.83" y1="774.15" x2="260.26" y2="847.98" stroke="#9a9a9a" stroke-width="0.8"/>
<line x1="55.35" y1="778.72" x2="50.64" y2="783.1" stroke="#9a9a9a" stroke-width="0.8"/>
<text x="46.75" y="798.72" font-size="14.2" text-anchor="middle" fill="#000">1</text>
<line x1="69.58" y1="783.53" x2="64.87" y2="787.91" stroke="#9a9a9a" stroke-width="0.8"/>
<text x="60.98" y="803.53" font-size="14.2" text-anchor="middle" fill="#000">7</text>
<line x1="83.81" y1="788.34" x2="79.1" y2="792.72" stroke="#9a9a9a" stroke-width="0.8"/>
<text x="75.21" y="808.34" font-size="14.2" text-anchor="middle" fill="#000">8</text>
<line x1="98.04" y1="793.15" x2="93.33" y2="797.53" stroke="#9a9a9a" stroke-width="0.8"/>
<text x="89.44" y="813.15" font-size="14.2" text-anchor="middle" fill="#000">10</text>
<line x1="112.27" y1="797.96" x2="107.56" y2="802.34" stroke="#9a9a9a" stroke-width="0.8"/>
<text x="103.67" y="817.96" font-size="14.2" text-anchor="middle" fill="#000">2</text>
<line x1="126.5" y1="802.77" x2="121.79" y2="807.15" stroke="#9a9a9a" stroke-width="0.8"/>
<text x="117.9" y="822.77" font-size="14.2" text-anchor="middle" fill="#000">6</text>
<line x1="140.73" y1="807.58" x2="136.02" y2="811.96" stroke="#9a9a9a" stroke-width="0.8"/>
<text x="132.13" y="827.58" font-size="14.2" text-anchor="middle" fill="#000">9</text>
<line x1="154.96" y1="812.39" x2="150.25" y2="816.77" stroke="#9a9a9a" stroke-width="0.8"/>
<text x="146.36" y="832.39" font-size="14.2" text-anchor="middle" fill="#000">11</text>
<line x1="169.19" y1="817.2" x2="164.48" y2="821.58" stroke="#9a9a9a" stroke-width="0.8"/>
<text x="160.59" y="837.2" font-size="14.2" text-anchor="middle" fill="#000">14</text>
<line x1="183.42" y1="822.01" x2="178.71" y2="826.39" stroke="#9a9a9a" stroke-width="0.8"/>
<text x="174.82" y="842.01" font-size="14.2" text-anchor="middle" fill="#000">15</text>
<line x1="197.65" y1="826.82" x2="192.94" y2="831.2" stroke="#9a9a9a" stroke-width="0.8"/>
<text x="189.05" y="846.82" font-size="14.2" text-anchor="middle" fill="#000">3</text>
<line x1="211.88" y1="831.63" x2="207.17" y2="836.01" stroke="#9a9a9a" stroke-width="0.8"/>
<text x="203.28" y="851.63" font-size="14.2" text-anchor="middle" fill="#000">4</text>
<line x1="226.11" y1="836.44" x2="221.4" y2="840.82" stroke="#9a9a9a" stroke-width="0.8"/>
<text x="217.51" y="856.44" font-size="14.2" text-anchor="middle" fill="#000">5</text>
<line x1="240.34" y1="841.25" x2="235.63" y2="845.63" stroke="#9a9a9a" stroke-width="0.8"/>
<text x="231.74" y="861.25" font-size="14.2" text-anchor="middle" fill="#000">12</text>
<line x1="254.57" y1="846.06" x2="249.86" y2="850.44" stroke="#9a9a9a" stroke-width="0.8"/>
<text x="245.97" y="866.06" font-size="14.2" text-anchor="middle" fill="#000">13</text>
<line x1="260.26" y1="847.98" x2="305.79" y2="805.64" stroke="#9a9a9a" stroke-width="0.8"/>
<text x="0" y="0" font-size="14.3" transform="translate(263.5 849.5) rotate(34)" fill="#000">60-6</text>
<text x="0" y="0" font-size="14.3" transform="translate(271.4 841.7) rotate(34)" fill="#000">60-5</text>
<text x="0" y="0" font-size="14.3" transform="translate(279.3 833.9) rotate(34)" fill="#000">80-6</text>
<text x="0" y="0" font-size="14.3" transform="translate(287.2 826.1) rotate(34)" fill="#000">80-5</text>
<text x="0" y="0" font-size="14.3" transform="translate(295.1 818.3) rotate(34)" fill="#000">100-6</text>
<text x="0" y="0" font-size="14.3" transform="translate(303 810.5) rotate(34)" fill="#000">100-5</text>
<text x="117.3" y="838.3" font-size="16.5" text-anchor="middle" fill="#000" transform="rotate(20.5 117.3 838.3)">Driver</text>
<text x="311" y="857.5" font-size="16.5" text-anchor="start" fill="#000">Takeover</text>
<text x="307.4" y="876" font-size="16.5" text-anchor="start" fill="#000">conditions</text>
<text x="15" y="728.4" font-size="16.5" text-anchor="middle" fill="#000" transform="rotate(-90 15 728.4)">Control reshaping time (s)</text>
<text x="-0.4" y="619" font-size="22.5" text-anchor="start" font-weight="bold" fill="#000">d</text>
<line x1="77.5" y1="654.3" x2="264" y2="745.6" stroke="#1d2b50" stroke-width="4.8"/>
<polygon points="271.1,736.6 286.8,756.8 261.9,756.8" fill="#1d2b50" stroke="none" stroke-width="1"/>
</svg></body></html>
